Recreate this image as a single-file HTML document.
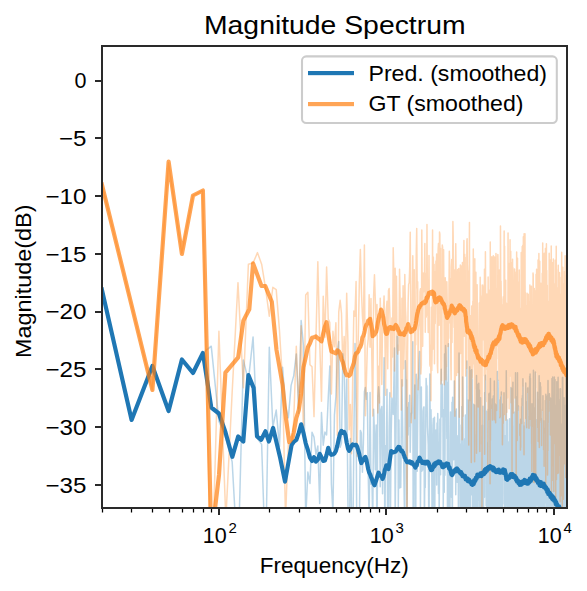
<!DOCTYPE html>
<html><head><meta charset="utf-8"><style>html,body{margin:0;padding:0;background:#fff;width:587px;height:591px;overflow:hidden}svg{display:block}</style></head>
<body><svg width="587" height="591" viewBox="0 0 587 591">
<rect width="587" height="591" fill="#fff"/>
<defs><clipPath id="ax"><rect x="101.917" y="45.883" width="465.0" height="462.0"/></clipPath></defs>
<g clip-path="url(#ax)" fill="none" stroke-linejoin="round" stroke-linecap="square">
<path d="M101.92 289.67 L131.39 419.08 L152.30 366.25 L168.52 410.79 L181.78 359.98 L192.98 372.98 L202.69 353.43 L211.25 346.18 L218.91 421.26 L225.84 438.58 L232.16 461.68 L237.98 565.63 L243.37 360.04 L248.38 380.83 L253.07 336.94 L257.48 438.58 L261.64 444.36 L265.57 565.63 L269.29 347.34 L272.84 427.03 L276.22 410.08 L279.45 446.66 L282.55 367.18 L285.52 406.27 L288.37 417.80 L291.11 385.37 L293.75 375.60 L296.30 353.91 L298.77 413.35 L301.15 320.45 L303.46 345.53 L305.70 518.91 L307.87 472.10 L309.97 483.39 L312.02 432.31 L314.01 437.14 L315.95 454.42 L317.84 446.00 L319.68 503.52 L321.48 412.61 L323.23 445.15 L324.94 432.08 L326.61 435.00 L328.24 398.05 L329.84 365.95 L331.40 484.18 L332.93 513.02 L334.43 415.12 L335.90 396.66 L337.34 352.22 L338.75 341.44 L340.14 447.23 L341.50 443.05 L342.83 353.78 L344.14 363.27 L345.43 443.15 L346.69 378.88 L347.93 501.19 L349.15 579.80 L350.36 438.38 L351.54 512.79 L352.70 561.11 L353.85 439.52 L354.97 343.58 L356.08 412.46 L357.18 597.16 L358.25 535.48 L359.31 534.35 L360.36 430.40 L361.39 432.98 L362.41 472.30 L363.41 442.68 L364.40 391.68 L365.37 387.42 L366.34 399.34 L367.29 392.86 L368.23 472.94 L369.15 525.52 L370.07 392.48 L370.97 484.22 L371.86 473.82 L372.74 524.67 L373.61 409.27 L374.47 433.23 L375.32 469.73 L376.16 425.01 L376.99 549.18 L377.82 396.74 L378.63 386.86 L379.43 397.59 L380.23 486.71 L381.01 410.00 L381.79 406.59 L382.56 493.77 L383.32 419.27 L384.07 357.75 L384.82 540.41 L385.56 445.75 L386.29 461.01 L387.01 389.18 L387.73 544.80 L388.44 561.19 L389.14 429.02 L389.83 392.74 L390.52 509.37 L391.20 433.92 L391.88 398.11 L392.55 404.97 L393.21 414.45 L393.87 382.64 L394.52 348.08 L395.17 521.84 L395.81 455.51 L396.45 377.27 L397.08 336.30 L397.70 336.88 L398.32 509.22 L398.93 419.95 L399.54 487.90 L400.14 454.89 L400.74 487.58 L401.33 427.00 L401.92 379.67 L402.51 417.73 L403.09 458.23 L403.66 458.65 L404.23 500.03 L404.80 518.53 L405.36 360.68 L405.91 381.01 L406.47 379.82 L407.02 549.96 L407.56 407.58 L408.10 434.99 L408.64 402.67 L409.17 426.29 L409.70 395.19 L410.22 452.35 L410.74 423.22 L411.26 413.46 L411.78 412.53 L412.29 396.01 L412.79 341.71 L413.30 592.61 L413.80 407.92 L414.29 417.08 L414.78 385.04 L415.27 529.83 L415.76 529.96 L416.24 374.19 L416.72 424.38 L417.20 471.20 L417.67 418.48 L418.14 380.64 L418.61 375.72 L419.08 360.67 L419.54 351.58 L420.00 395.00 L420.45 509.25 L420.90 448.46 L421.35 387.03 L421.80 471.19 L422.25 433.74 L422.69 470.06 L423.13 411.15 L423.56 407.96 L424.00 406.89 L424.43 528.41 L424.86 463.84 L425.28 487.54 L425.71 421.70 L426.13 378.59 L426.55 386.95 L426.97 386.02 L427.38 426.27 L427.79 435.04 L428.20 445.07 L428.61 496.82 L429.01 546.43 L429.42 417.02 L429.82 374.09 L430.21 416.72 L430.61 469.52 L431.00 409.81 L431.40 434.95 L431.79 472.90 L432.17 530.40 L432.56 482.59 L432.94 425.85 L433.33 418.45 L433.70 440.55 L434.08 550.06 L434.46 417.27 L434.83 507.51 L435.20 433.38 L435.57 436.00 L435.94 430.05 L436.31 431.87 L436.67 484.96 L437.03 423.02 L437.40 436.91 L437.75 413.40 L438.11 435.48 L438.47 493.59 L438.82 441.91 L439.17 512.98 L439.52 474.47 L439.87 419.25 L440.22 458.74 L440.56 474.87 L440.91 405.53 L441.25 369.13 L441.59 405.95 L441.93 416.65 L442.27 384.28 L442.60 416.41 L442.94 412.31 L443.27 509.93 L443.60 409.70 L443.93 424.84 L444.26 492.18 L444.58 354.10 L444.91 475.32 L445.23 403.05 L445.56 345.44 L445.88 352.25 L446.20 366.21 L446.51 388.10 L446.83 438.41 L447.15 395.25 L447.46 511.33 L447.77 382.35 L448.08 513.35 L448.39 343.78 L448.70 503.77 L449.01 503.90 L449.32 509.10 L449.62 537.47 L449.93 517.30 L450.23 438.13 L450.53 411.94 L450.83 481.50 L451.13 436.37 L451.42 497.37 L451.72 442.75 L452.01 402.16 L452.31 620.80 L452.60 397.35 L452.89 432.36 L453.18 446.17 L453.47 452.23 L453.76 459.72 L454.05 414.27 L454.33 380.95 L454.62 439.61 L454.90 420.63 L455.18 472.85 L455.46 411.54 L455.74 494.77 L456.02 448.64 L456.30 408.88 L456.58 472.37 L456.85 469.11 L457.13 482.19 L457.40 460.98 L457.67 457.40 L457.95 435.72 L458.22 460.87 L458.49 530.89 L458.76 426.08 L459.02 353.07 L459.29 414.97 L459.56 453.45 L459.82 425.01 L460.08 470.27 L460.35 512.27 L460.61 500.92 L460.87 561.63 L461.13 444.08 L461.39 475.72 L461.65 448.67 L461.91 406.47 L462.16 454.53 L462.42 510.43 L462.67 377.10 L462.93 405.18 L463.18 452.13 L463.43 445.16 L463.68 548.36 L463.93 467.83 L464.18 512.14 L464.43 505.78 L464.68 438.83 L464.92 478.83 L465.17 503.77 L465.42 414.96 L465.66 495.99 L465.90 507.20 L466.15 486.16 L466.39 466.58 L466.63 469.73 L466.87 361.03 L467.11 509.73 L467.35 494.03 L467.59 590.80 L467.82 523.63 L468.06 399.97 L468.29 423.16 L468.53 566.38 L468.76 497.77 L469.00 434.51 L469.23 462.76 L469.46 509.04 L469.69 366.68 L469.92 506.24 L470.15 449.10 L470.38 545.87 L470.61 530.54 L470.84 370.44 L471.06 434.27 L471.29 445.55 L471.52 494.65 L471.74 369.69 L471.96 426.49 L472.19 379.37 L472.41 482.33 L472.63 467.65 L472.85 541.84 L473.07 544.75 L473.29 404.24 L473.51 433.59 L473.73 415.27 L473.95 423.66 L474.17 507.01 L474.38 406.74 L474.60 405.01 L474.82 451.04 L475.03 462.47 L475.24 454.83 L475.46 527.11 L475.67 549.81 L475.88 435.12 L476.09 456.21 L476.31 444.22 L476.52 375.38 L476.73 511.99 L476.93 498.02 L477.14 581.61 L477.35 456.87 L477.56 423.42 L477.77 700.00 L477.97 384.28 L478.18 500.68 L478.38 482.14 L478.59 388.97 L478.79 383.20 L478.99 426.78 L479.20 446.00 L479.40 390.11 L479.60 589.03 L479.80 478.08 L480.00 473.32 L480.20 414.28 L480.40 499.48 L480.60 397.87 L480.80 524.02 L481.00 518.72 L481.19 544.63 L481.39 504.28 L481.59 574.31 L481.78 547.72 L481.98 512.73 L482.17 481.89 L482.37 425.19 L482.56 457.58 L482.75 540.44 L482.95 406.19 L483.14 542.51 L483.33 426.22 L483.52 535.34 L483.71 473.76 L483.90 425.50 L484.09 456.71 L484.28 464.04 L484.47 497.23 L484.66 392.46 L484.84 474.77 L485.03 425.09 L485.22 427.67 L485.40 375.33 L485.59 450.68 L485.77 419.99 L485.96 427.36 L486.14 505.66 L486.33 411.22 L486.51 411.39 L486.69 483.42 L486.88 508.46 L487.06 501.26 L487.24 488.28 L487.42 502.94 L487.60 464.85 L487.78 442.74 L487.96 521.12 L488.14 506.09 L488.32 409.35 L488.50 624.09 L488.68 536.94 L488.85 394.00 L489.03 406.24 L489.21 393.31 L489.38 427.46 L489.56 528.31 L489.73 473.89 L489.91 471.98 L490.08 466.77 L490.26 456.38 L490.43 378.50 L490.60 442.28 L490.78 404.98 L490.95 512.56 L491.12 425.06 L491.29 425.71 L491.46 472.27 L491.64 535.17 L491.81 420.51 L491.98 486.00 L492.15 399.11 L492.31 503.79 L492.48 423.07 L492.65 455.89 L492.82 482.87 L492.99 513.55 L493.16 404.97 L493.32 396.03 L493.49 513.82 L493.65 502.46 L493.82 496.18 L493.99 421.37 L494.15 511.48 L494.32 381.00 L494.48 418.14 L494.64 449.13 L494.81 419.31 L494.97 436.55 L495.13 403.74 L495.30 537.60 L495.46 487.68 L495.62 587.82 L495.78 420.80 L495.94 586.89 L496.10 416.13 L496.26 404.97 L496.42 521.11 L496.58 541.02 L496.74 582.11 L496.90 415.69 L497.06 518.55 L497.22 440.40 L497.37 371.54 L497.53 443.99 L497.69 588.36 L497.85 510.34 L498.00 380.13 L498.16 382.37 L498.31 395.58 L498.47 480.12 L498.63 477.56 L498.78 466.58 L498.93 399.69 L499.09 445.69 L499.24 421.71 L499.40 516.83 L499.55 563.14 L499.70 476.52 L499.86 429.29 L500.01 610.94 L500.16 489.59 L500.31 489.16 L500.46 416.98 L500.61 494.57 L500.76 397.00 L500.91 485.85 L501.06 464.21 L501.21 452.68 L501.36 391.99 L501.51 438.43 L501.66 542.95 L501.81 487.62 L501.96 462.02 L502.11 585.63 L502.25 403.92 L502.40 543.52 L502.55 429.43 L502.69 440.96 L502.84 415.07 L502.99 474.52 L503.13 432.80 L503.28 463.18 L503.42 455.90 L503.57 441.49 L503.71 466.01 L503.86 428.26 L504.00 392.74 L504.15 504.09 L504.29 445.19 L504.43 476.33 L504.57 523.09 L504.72 435.49 L504.86 475.87 L505.00 626.93 L505.14 488.96 L505.29 531.71 L505.43 508.95 L505.57 498.46 L505.71 473.16 L505.85 514.78 L505.99 523.23 L506.13 408.00 L506.27 370.76 L506.41 428.18 L506.55 442.70 L506.69 498.99 L506.82 422.35 L506.96 464.22 L507.10 461.07 L507.24 504.78 L507.38 462.89 L507.51 420.04 L507.65 607.86 L507.79 571.80 L507.92 451.76 L508.06 454.44 L508.20 480.04 L508.33 571.29 L508.47 484.32 L508.60 451.12 L508.74 484.74 L508.87 452.85 L509.01 441.83 L509.14 526.41 L509.28 442.54 L509.41 513.86 L509.54 418.82 L509.68 429.12 L509.81 450.86 L509.94 463.02 L510.07 513.36 L510.21 475.18 L510.34 434.68 L510.47 534.33 L510.60 451.02 L510.73 593.34 L510.86 451.27 L511.00 387.55 L511.13 414.67 L511.26 466.34 L511.39 569.57 L511.52 499.72 L511.65 425.31 L511.78 444.98 L511.90 457.64 L512.03 426.91 L512.16 404.18 L512.29 388.45 L512.42 449.87 L512.55 528.22 L512.68 428.97 L512.80 424.94 L512.93 382.31 L513.06 533.95 L513.18 452.42 L513.31 445.07 L513.44 469.72 L513.56 508.97 L513.69 478.41 L513.82 529.28 L513.94 509.50 L514.07 453.75 L514.19 530.98 L514.32 426.09 L514.44 478.40 L514.57 412.13 L514.69 442.96 L514.82 438.37 L514.94 426.05 L515.06 500.45 L515.19 439.50 L515.31 434.13 L515.43 398.29 L515.56 372.76 L515.68 564.35 L515.80 402.61 L515.92 555.45 L516.05 470.37 L516.17 475.62 L516.29 517.10 L516.41 480.78 L516.53 397.08 L516.65 458.04 L516.77 566.94 L516.89 518.45 L517.01 480.27 L517.13 417.97 L517.25 412.07 L517.37 450.81 L517.49 372.85 L517.61 408.10 L517.73 423.09 L517.85 439.32 L517.97 515.47 L518.09 446.65 L518.21 425.66 L518.33 420.52 L518.44 406.12 L518.56 436.58 L518.68 436.19 L518.80 492.91 L518.91 444.51 L519.03 564.77 L519.15 461.55 L519.27 424.14 L519.38 430.07 L519.50 435.03 L519.61 450.25 L519.73 564.92 L519.85 534.31 L519.96 487.16 L520.08 429.55 L520.19 527.64 L520.31 584.07 L520.42 512.51 L520.54 536.07 L520.65 419.28 L520.77 622.21 L520.88 488.11 L521.00 429.01 L521.11 469.15 L521.22 505.08 L521.34 447.25 L521.45 470.14 L521.56 406.82 L521.68 460.15 L521.79 550.69 L521.90 476.62 L522.01 398.16 L522.13 401.25 L522.24 427.34 L522.35 626.18 L522.46 395.39 L522.57 463.03 L522.68 465.88 L522.80 481.14 L522.91 378.83 L523.02 387.26 L523.13 515.53 L523.24 479.12 L523.35 460.58 L523.46 519.08 L523.57 467.06 L523.68 426.77 L523.79 435.86 L523.90 440.23 L524.01 426.32 L524.12 548.17 L524.23 492.55 L524.34 567.20 L524.44 461.72 L524.55 535.34 L524.66 528.38 L524.77 530.31 L524.88 492.36 L524.99 544.47 L525.09 422.16 L525.20 450.72 L525.31 495.84 L525.42 557.82 L525.52 491.78 L525.63 443.17 L525.74 383.03 L525.84 426.14 L525.95 445.91 L526.06 412.23 L526.16 444.65 L526.27 490.19 L526.37 434.87 L526.48 508.73 L526.59 549.81 L526.69 402.09 L526.80 458.96 L526.90 472.52 L527.01 551.56 L527.11 501.57 L527.22 486.09 L527.32 483.86 L527.42 469.48 L527.53 516.21 L527.63 388.03 L527.74 503.33 L527.84 541.67 L527.94 416.67 L528.05 535.61 L528.15 490.93 L528.25 473.81 L528.36 448.35 L528.46 420.40 L528.56 613.90 L528.67 424.20 L528.77 425.00 L528.87 420.46 L528.97 449.95 L529.07 486.93 L529.18 507.44 L529.28 387.10 L529.38 415.41 L529.48 627.24 L529.58 398.21 L529.68 376.37 L529.78 438.17 L529.89 454.83 L529.99 428.98 L530.09 374.10 L530.19 416.60 L530.29 431.86 L530.39 378.34 L530.49 450.89 L530.59 489.88 L530.69 420.69 L530.79 489.74 L530.89 509.21 L530.99 639.45 L531.09 416.31 L531.18 462.01 L531.28 415.64 L531.38 533.21 L531.48 462.21 L531.58 413.67 L531.68 471.78 L531.78 428.52 L531.87 499.11 L531.97 403.84 L532.07 475.09 L532.17 448.69 L532.27 513.08 L532.36 478.18 L532.46 554.88 L532.56 475.41 L532.65 451.20 L532.75 484.46 L532.85 414.17 L532.95 449.94 L533.04 605.06 L533.14 523.78 L533.23 461.29 L533.33 453.38 L533.43 370.30 L533.52 429.84 L533.62 486.26 L533.71 521.65 L533.81 439.19 L533.91 546.20 L534.00 519.01 L534.10 493.63 L534.19 433.37 L534.29 604.93 L534.38 475.74 L534.48 462.78 L534.57 407.70 L534.66 476.12 L534.76 440.81 L534.85 485.63 L534.95 552.56 L535.04 510.84 L535.14 474.20 L535.23 418.31 L535.32 371.91 L535.42 423.26 L535.51 431.21 L535.60 420.27 L535.70 556.72 L535.79 482.65 L535.88 432.83 L535.97 420.04 L536.07 532.48 L536.16 469.01 L536.25 458.60 L536.34 426.06 L536.44 460.13 L536.53 422.01 L536.62 474.75 L536.71 484.92 L536.80 505.03 L536.90 426.82 L536.99 419.57 L537.08 457.50 L537.17 465.36 L537.26 472.09 L537.35 445.85 L537.44 405.23 L537.53 392.28 L537.62 451.09 L537.72 468.85 L537.81 463.93 L537.90 400.25 L537.99 542.79 L538.08 399.60 L538.17 406.90 L538.26 481.20 L538.35 454.49 L538.44 496.83 L538.53 438.00 L538.62 515.47 L538.70 473.64 L538.79 466.27 L538.88 627.41 L538.97 485.53 L539.06 463.01 L539.15 375.82 L539.24 510.83 L539.33 408.41 L539.42 500.16 L539.50 528.17 L539.59 489.27 L539.68 507.96 L539.77 468.27 L539.86 536.16 L539.94 545.02 L540.03 469.60 L540.12 384.96 L540.21 397.90 L540.29 382.69 L540.38 470.12 L540.47 474.06 L540.56 475.27 L540.64 472.60 L540.73 386.69 L540.82 420.29 L540.90 439.22 L540.99 409.25 L541.08 474.17 L541.16 556.84 L541.25 447.43 L541.34 418.51 L541.42 513.78 L541.51 565.51 L541.59 553.36 L541.68 458.38 L541.76 465.89 L541.85 463.99 L541.94 429.32 L542.02 500.62 L542.11 421.28 L542.19 455.00 L542.28 572.85 L542.36 477.96 L542.45 435.83 L542.53 468.06 L542.62 498.83 L542.70 492.46 L542.78 423.96 L542.87 449.35 L542.95 395.71 L543.04 489.05 L543.12 486.94 L543.21 483.95 L543.29 455.60 L543.37 568.99 L543.46 467.14 L543.54 518.52 L543.62 515.07 L543.71 420.68 L543.79 515.09 L543.87 535.64 L543.96 526.44 L544.04 502.35 L544.12 524.61 L544.21 517.13 L544.29 470.52 L544.37 455.54 L544.45 447.49 L544.54 428.80 L544.62 443.87 L544.70 438.68 L544.78 451.44 L544.87 510.84 L544.95 445.54 L545.03 482.56 L545.11 447.60 L545.19 462.30 L545.27 466.30 L545.36 400.47 L545.44 440.93 L545.52 502.78 L545.60 423.17 L545.68 411.58 L545.76 486.71 L545.84 394.15 L545.92 398.10 L546.01 466.50 L546.09 481.30 L546.17 396.19 L546.25 495.60 L546.33 487.97 L546.41 439.34 L546.49 466.83 L546.57 567.81 L546.65 444.12 L546.73 566.49 L546.81 528.78 L546.89 521.00 L546.97 472.64 L547.05 514.50 L547.13 461.45 L547.21 445.67 L547.29 422.57 L547.37 445.77 L547.44 466.52 L547.52 432.09 L547.60 395.39 L547.68 441.40 L547.76 547.93 L547.84 487.96 L547.92 396.08 L548.00 380.60 L548.08 455.66 L548.15 546.15 L548.23 501.66 L548.31 498.59 L548.39 491.80 L548.47 448.68 L548.54 504.44 L548.62 503.40 L548.70 631.59 L548.78 525.65 L548.86 450.60 L548.93 409.79 L549.01 612.19 L549.09 608.16 L549.17 447.78 L549.24 467.18 L549.32 431.37 L549.40 393.70 L549.47 485.09 L549.55 472.20 L549.63 442.62 L549.71 497.38 L549.78 510.81 L549.86 636.51 L549.94 497.05 L550.01 406.91 L550.09 431.38 L550.16 465.96 L550.24 455.74 L550.32 469.52 L550.39 500.88 L550.47 397.89 L550.54 439.78 L550.62 529.59 L550.70 547.80 L550.77 480.32 L550.85 571.82 L550.92 576.83 L551.00 450.80 L551.07 549.92 L551.15 468.33 L551.22 436.24 L551.30 423.85 L551.37 416.19 L551.45 512.24 L551.52 508.36 L551.60 474.49 L551.67 609.38 L551.75 508.98 L551.82 423.68 L551.90 513.75 L551.97 378.62 L552.05 499.79 L552.12 494.67 L552.20 415.39 L552.27 403.69 L552.34 400.03 L552.42 427.90 L552.49 488.27 L552.57 439.04 L552.64 385.21 L552.71 376.89 L552.79 468.65 L552.86 540.36 L552.93 518.49 L553.01 524.33 L553.08 510.65 L553.15 456.60 L553.23 440.93 L553.30 528.15 L553.37 413.76 L553.45 515.97 L553.52 409.73 L553.59 566.41 L553.66 538.04 L553.74 477.58 L553.81 559.49 L553.88 519.16 L553.95 476.83 L554.03 540.66 L554.10 573.25 L554.17 465.09 L554.24 397.46 L554.32 376.98 L554.39 425.86 L554.46 446.83 L554.53 511.31 L554.60 420.19 L554.67 429.81 L554.75 491.45 L554.82 388.72 L554.89 517.82 L554.96 429.81 L555.03 379.43 L555.10 412.54 L555.17 544.61 L555.25 404.99 L555.32 472.23 L555.39 446.19 L555.46 487.72 L555.53 440.52 L555.60 464.83 L555.67 492.67 L555.74 492.50 L555.81 487.19 L555.88 449.37 L555.95 412.99 L556.02 417.93 L556.09 478.38 L556.16 444.76 L556.23 450.51 L556.30 552.03 L556.37 508.46 L556.44 525.73 L556.51 458.20 L556.58 447.02 L556.65 544.58 L556.72 505.16 L556.79 381.72 L556.86 502.73 L556.93 517.07 L557.00 480.95 L557.07 502.44 L557.14 499.78 L557.21 441.82 L557.28 401.23 L557.35 398.68 L557.42 576.76 L557.49 637.64 L557.56 456.62 L557.62 538.37 L557.69 561.72 L557.76 546.19 L557.83 608.93 L557.90 501.31 L557.97 445.56 L558.04 411.03 L558.10 377.19 L558.17 431.61 L558.24 451.24 L558.31 519.74 L558.38 508.01 L558.45 402.82 L558.51 449.83 L558.58 472.23 L558.65 388.83 L558.72 518.84 L558.79 603.18 L558.85 540.08 L558.92 467.84 L558.99 557.67 L559.06 429.88 L559.12 488.43 L559.19 499.92 L559.26 446.65 L559.33 453.35 L559.39 402.91 L559.46 401.63 L559.53 533.56 L559.59 450.27 L559.66 448.65 L559.73 538.15 L559.79 435.06 L559.86 452.30 L559.93 450.40 L559.99 504.15 L560.06 556.90 L560.13 423.98 L560.19 399.18 L560.26 456.23 L560.33 523.82 L560.39 471.00 L560.46 388.87 L560.53 392.33 L560.59 582.64 L560.66 543.44 L560.72 448.89 L560.79 484.38 L560.86 477.03 L560.92 458.30 L560.99 504.70 L561.05 507.73 L561.12 424.02 L561.18 499.20 L561.25 512.70 L561.32 497.59 L561.38 427.35 L561.45 496.56 L561.51 435.74 L561.58 508.76 L561.64 487.20 L561.71 594.87 L561.77 472.57 L561.84 469.10 L561.90 429.71 L561.97 547.09 L562.03 619.96 L562.10 473.14 L562.16 482.28 L562.23 509.49 L562.29 466.84 L562.35 444.64 L562.42 377.43 L562.48 512.09 L562.55 534.27 L562.61 448.64 L562.68 423.07 L562.74 377.45 L562.80 392.94 L562.87 424.86 L562.93 418.98 L563.00 410.52 L563.06 514.64 L563.12 483.61 L563.19 566.22 L563.25 542.01 L563.32 439.55 L563.38 442.55 L563.44 446.01 L563.51 472.15 L563.57 599.53 L563.63 493.82 L563.70 464.25 L563.76 419.20 L563.82 479.89 L563.89 400.66 L563.95 452.96 L564.01 565.56 L564.08 397.80 L564.14 451.98 L564.20 571.78 L564.26 458.37 L564.33 421.13 L564.39 528.68 L564.45 454.27 L564.52 451.86 L564.58 455.14 L564.64 465.30 L564.70 508.97 L564.77 535.95 L564.83 477.59 L564.89 530.30 L564.95 479.58 L565.01 405.53 L565.08 518.32 L565.14 507.38 L565.20 427.33 L565.26 589.61 L565.32 454.89 L565.39 522.11 L565.45 422.80 L565.51 481.95 L565.57 492.01 L565.63 469.59 L565.70 460.46 L565.76 423.23 L565.82 415.46 L565.88 531.05 L565.94 428.08 L566.00 377.63 L566.06 424.64 L566.13 510.79 L566.19 537.39 L566.25 399.76 L566.31 461.95 L566.37 491.13 L566.43 556.51 L566.49 644.71 L566.55 433.02 L566.61 534.02 L566.67 454.96 L566.74 464.95 L566.80 507.47 L566.86 489.73 L566.92 445.96" stroke="#1f77b4" stroke-opacity="0.3" stroke-width="1.5"/>
<path d="M101.92 184.57 L131.39 304.51 L152.30 389.60 L168.52 162.68 L181.78 253.14 L192.98 195.60 L202.69 190.61 L211.25 600.28 L218.91 331.17 L225.84 519.43 L232.16 392.38 L237.98 282.66 L243.37 387.76 L248.38 264.18 L253.07 263.02 L257.48 252.63 L261.64 264.18 L265.57 288.43 L269.29 316.15 L272.84 287.28 L276.22 289.59 L279.45 330.01 L282.55 381.11 L285.52 517.94 L288.37 443.46 L291.11 450.89 L293.75 419.95 L296.30 346.27 L298.77 408.32 L301.15 325.77 L303.46 435.75 L305.70 294.95 L307.87 292.33 L309.97 364.74 L312.02 366.77 L314.01 416.62 L315.95 338.07 L317.84 261.68 L319.68 340.58 L321.48 401.33 L323.23 296.37 L324.94 337.23 L326.61 267.08 L328.24 319.15 L329.84 322.64 L331.40 394.03 L332.93 331.27 L334.43 346.81 L335.90 322.83 L337.34 435.17 L338.75 311.86 L340.14 300.33 L341.50 313.51 L342.83 369.24 L344.14 336.58 L345.43 369.50 L346.69 293.16 L347.93 342.28 L349.15 429.83 L350.36 404.46 L351.54 453.71 L352.70 378.20 L353.85 311.03 L354.97 316.35 L356.08 281.47 L357.18 456.16 L358.25 339.84 L359.31 283.77 L360.36 249.61 L361.39 289.42 L362.41 315.96 L363.41 329.57 L364.40 245.11 L365.37 415.84 L366.34 383.45 L367.29 348.03 L368.23 338.90 L369.15 294.66 L370.07 347.14 L370.97 298.42 L371.86 360.41 L372.74 416.11 L373.61 296.10 L374.47 274.75 L375.32 300.28 L376.16 327.14 L376.99 304.54 L377.82 412.97 L378.63 366.26 L379.43 402.91 L380.23 298.37 L381.01 330.15 L381.79 384.53 L382.56 320.51 L383.32 310.94 L384.07 295.88 L384.82 328.61 L385.56 395.21 L386.29 311.21 L387.01 301.30 L387.73 368.64 L388.44 290.70 L389.14 288.52 L389.83 312.99 L390.52 339.79 L391.20 396.97 L391.88 318.08 L392.55 357.11 L393.21 247.74 L393.87 276.73 L394.52 370.91 L395.17 268.28 L395.81 323.04 L396.45 276.30 L397.08 347.65 L397.70 354.09 L398.32 344.89 L398.93 350.30 L399.54 269.32 L400.14 300.15 L400.74 365.00 L401.33 409.96 L401.92 298.24 L402.51 385.92 L403.09 285.73 L403.66 368.66 L404.23 345.89 L404.80 274.46 L405.36 306.11 L405.91 317.26 L406.47 421.75 L407.02 568.51 L407.56 356.92 L408.10 303.17 L408.64 284.26 L409.17 282.96 L409.70 268.13 L410.22 232.13 L410.74 297.48 L411.26 422.64 L411.78 311.27 L412.29 315.92 L412.79 255.78 L413.30 325.53 L413.80 332.30 L414.29 269.63 L414.78 418.65 L415.27 335.75 L415.76 344.69 L416.24 252.84 L416.72 228.47 L417.20 287.71 L417.67 281.65 L418.14 389.70 L418.61 331.46 L419.08 325.57 L419.54 324.27 L420.00 292.22 L420.45 288.77 L420.90 373.95 L421.35 365.22 L421.80 230.12 L422.25 294.49 L422.69 346.18 L423.13 273.01 L423.56 291.91 L424.00 278.79 L424.43 283.03 L424.86 243.42 L425.28 332.31 L425.71 273.22 L426.13 317.17 L426.55 314.92 L426.97 224.47 L427.38 294.42 L427.79 301.08 L428.20 332.40 L428.61 303.04 L429.01 255.59 L429.42 322.60 L429.82 364.93 L430.21 366.18 L430.61 345.02 L431.00 400.68 L431.40 307.14 L431.79 370.50 L432.17 348.13 L432.56 229.94 L432.94 349.32 L433.33 256.92 L433.70 281.80 L434.08 264.30 L434.46 363.80 L434.83 271.46 L435.20 323.52 L435.57 305.90 L435.94 261.00 L436.31 267.99 L436.67 254.00 L437.03 280.03 L437.40 365.18 L437.75 372.80 L438.11 250.09 L438.47 243.53 L438.82 265.12 L439.17 325.26 L439.52 232.11 L439.87 234.07 L440.22 312.72 L440.56 248.30 L440.91 383.98 L441.25 314.77 L441.59 380.46 L441.93 343.42 L442.27 245.00 L442.60 247.44 L442.94 308.13 L443.27 259.64 L443.60 249.74 L443.93 299.07 L444.26 384.78 L444.58 283.89 L444.91 315.84 L445.23 277.63 L445.56 286.52 L445.88 379.70 L446.20 332.05 L446.51 366.58 L446.83 281.77 L447.15 298.80 L447.46 312.98 L447.77 305.97 L448.08 346.52 L448.39 331.89 L448.70 338.34 L449.01 286.40 L449.32 251.37 L449.62 264.75 L449.93 322.70 L450.23 313.82 L450.53 278.67 L450.83 364.93 L451.13 379.73 L451.42 267.45 L451.72 259.50 L452.01 342.44 L452.31 310.57 L452.60 290.86 L452.89 221.53 L453.18 235.08 L453.47 289.95 L453.76 312.95 L454.05 327.44 L454.33 269.97 L454.62 392.05 L454.90 416.16 L455.18 390.06 L455.46 271.01 L455.74 243.63 L456.02 269.49 L456.30 291.16 L456.58 375.45 L456.85 335.72 L457.13 345.83 L457.40 274.29 L457.67 269.41 L457.95 372.44 L458.22 314.36 L458.49 325.42 L458.76 268.46 L459.02 311.34 L459.29 417.32 L459.56 337.38 L459.82 310.10 L460.08 303.49 L460.35 264.94 L460.61 353.49 L460.87 313.94 L461.13 265.90 L461.39 347.03 L461.65 269.64 L461.91 299.21 L462.16 439.83 L462.42 262.43 L462.67 335.36 L462.93 416.35 L463.18 276.98 L463.43 334.39 L463.68 264.41 L463.93 240.47 L464.18 336.29 L464.43 307.51 L464.68 254.21 L464.92 278.05 L465.17 257.42 L465.42 318.48 L465.66 375.88 L465.90 294.20 L466.15 349.28 L466.39 322.91 L466.63 368.35 L466.87 241.93 L467.11 238.84 L467.35 265.08 L467.59 271.21 L467.82 309.23 L468.06 270.91 L468.29 293.82 L468.53 330.83 L468.76 445.10 L469.00 362.42 L469.23 269.66 L469.46 222.42 L469.69 356.41 L469.92 326.03 L470.15 400.57 L470.38 366.31 L470.61 322.22 L470.84 315.80 L471.06 413.83 L471.29 462.51 L471.52 334.27 L471.74 305.90 L471.96 378.03 L472.19 377.32 L472.41 369.06 L472.63 366.45 L472.85 301.19 L473.07 352.55 L473.29 249.02 L473.51 296.90 L473.73 363.84 L473.95 300.87 L474.17 346.16 L474.38 308.78 L474.60 461.80 L474.82 258.76 L475.03 388.65 L475.24 297.24 L475.46 285.08 L475.67 381.80 L475.88 272.13 L476.09 338.94 L476.31 354.39 L476.52 453.19 L476.73 367.92 L476.93 344.78 L477.14 284.64 L477.35 318.07 L477.56 351.41 L477.77 406.85 L477.97 354.86 L478.18 381.87 L478.38 365.22 L478.59 372.10 L478.79 407.02 L478.99 335.16 L479.20 302.95 L479.40 332.53 L479.60 306.24 L479.80 451.45 L480.00 310.46 L480.20 277.17 L480.40 365.05 L480.60 393.61 L480.80 285.06 L481.00 344.05 L481.19 310.43 L481.39 301.36 L481.59 444.15 L481.78 345.66 L481.98 526.51 L482.17 305.91 L482.37 295.68 L482.56 298.75 L482.75 284.94 L482.95 339.85 L483.14 322.19 L483.33 306.63 L483.52 287.48 L483.71 331.28 L483.90 292.16 L484.09 329.56 L484.28 376.04 L484.47 269.32 L484.66 454.23 L484.84 346.38 L485.03 269.17 L485.22 380.10 L485.40 251.80 L485.59 285.00 L485.77 369.01 L485.96 349.20 L486.14 316.23 L486.33 330.49 L486.51 348.46 L486.69 323.28 L486.88 294.07 L487.06 401.48 L487.24 298.78 L487.42 398.21 L487.60 367.27 L487.78 466.24 L487.96 399.04 L488.14 277.12 L488.32 364.25 L488.50 419.87 L488.68 295.64 L488.85 345.03 L489.03 321.32 L489.21 290.21 L489.38 388.28 L489.56 306.81 L489.73 419.09 L489.91 364.34 L490.08 483.85 L490.26 242.11 L490.43 440.23 L490.60 330.25 L490.78 327.41 L490.95 408.60 L491.12 298.11 L491.29 347.48 L491.46 331.76 L491.64 264.58 L491.81 256.87 L491.98 323.02 L492.15 304.36 L492.31 276.03 L492.48 420.07 L492.65 302.00 L492.82 347.85 L492.99 390.30 L493.16 332.39 L493.32 255.84 L493.49 287.92 L493.65 298.88 L493.82 323.46 L493.99 287.76 L494.15 385.65 L494.32 419.66 L494.48 256.99 L494.64 300.50 L494.81 277.88 L494.97 364.70 L495.13 338.49 L495.30 400.07 L495.46 358.70 L495.62 422.75 L495.78 351.02 L495.94 253.50 L496.10 256.65 L496.26 357.68 L496.42 372.42 L496.58 410.62 L496.74 309.17 L496.90 358.93 L497.06 324.33 L497.22 346.57 L497.37 288.15 L497.53 288.15 L497.69 308.37 L497.85 254.56 L498.00 261.15 L498.16 326.71 L498.31 344.68 L498.47 344.27 L498.63 291.12 L498.78 353.11 L498.93 380.00 L499.09 274.18 L499.24 269.88 L499.40 315.95 L499.55 286.95 L499.70 340.19 L499.86 417.73 L500.01 385.49 L500.16 315.83 L500.31 416.79 L500.46 226.06 L500.61 252.94 L500.76 317.80 L500.91 347.05 L501.06 281.28 L501.21 293.61 L501.36 327.38 L501.51 298.65 L501.66 353.71 L501.81 394.70 L501.96 336.65 L502.11 320.07 L502.25 310.22 L502.40 444.72 L502.55 429.81 L502.69 322.98 L502.84 304.84 L502.99 368.68 L503.13 423.18 L503.28 296.68 L503.42 302.56 L503.57 310.07 L503.71 354.22 L503.86 328.75 L504.00 294.90 L504.15 230.90 L504.29 355.94 L504.43 414.50 L504.57 246.13 L504.72 299.14 L504.86 306.11 L505.00 401.84 L505.14 366.97 L505.29 336.36 L505.43 409.29 L505.57 289.83 L505.71 280.19 L505.85 420.15 L505.99 302.31 L506.13 329.25 L506.27 365.84 L506.41 311.21 L506.55 303.46 L506.69 338.99 L506.82 412.31 L506.96 354.87 L507.10 348.99 L507.24 342.42 L507.38 394.46 L507.51 397.99 L507.65 304.02 L507.79 307.95 L507.92 324.00 L508.06 232.97 L508.20 332.17 L508.33 280.74 L508.47 309.56 L508.60 314.99 L508.74 341.42 L508.87 294.05 L509.01 341.50 L509.14 408.73 L509.28 303.56 L509.41 263.36 L509.54 344.28 L509.68 363.52 L509.81 356.70 L509.94 278.30 L510.07 239.87 L510.21 323.94 L510.34 375.91 L510.47 373.84 L510.60 291.07 L510.73 251.35 L510.86 276.87 L511.00 271.26 L511.13 402.78 L511.26 381.67 L511.39 290.04 L511.52 296.40 L511.65 288.05 L511.78 262.85 L511.90 311.43 L512.03 478.21 L512.16 367.39 L512.29 339.72 L512.42 412.66 L512.55 259.22 L512.68 361.61 L512.80 309.31 L512.93 267.64 L513.06 405.50 L513.18 400.38 L513.31 363.06 L513.44 412.89 L513.56 314.44 L513.69 304.21 L513.82 304.24 L513.94 312.86 L514.07 351.87 L514.19 282.27 L514.32 317.52 L514.44 284.19 L514.57 268.92 L514.69 322.09 L514.82 303.91 L514.94 398.01 L515.06 271.94 L515.19 327.72 L515.31 341.88 L515.43 312.24 L515.56 278.70 L515.68 354.58 L515.80 369.11 L515.92 378.90 L516.05 367.43 L516.17 482.57 L516.29 317.15 L516.41 329.59 L516.53 294.26 L516.65 252.09 L516.77 289.27 L516.89 372.68 L517.01 282.18 L517.13 440.57 L517.25 328.83 L517.37 276.70 L517.49 258.16 L517.61 318.98 L517.73 388.94 L517.85 410.16 L517.97 315.64 L518.09 339.92 L518.21 406.22 L518.33 345.87 L518.44 366.14 L518.56 281.99 L518.68 397.08 L518.80 348.56 L518.91 301.22 L519.03 291.17 L519.15 335.12 L519.27 270.06 L519.38 309.41 L519.50 364.12 L519.61 309.85 L519.73 323.71 L519.85 435.44 L519.96 308.15 L520.08 344.97 L520.19 334.77 L520.31 319.96 L520.42 450.07 L520.54 324.77 L520.65 447.45 L520.77 377.98 L520.88 315.33 L521.00 359.75 L521.11 304.94 L521.22 252.44 L521.34 369.80 L521.45 258.89 L521.56 285.20 L521.68 423.56 L521.79 285.04 L521.90 339.08 L522.01 405.67 L522.13 267.76 L522.24 246.58 L522.35 353.81 L522.46 282.26 L522.57 335.78 L522.68 297.44 L522.80 245.34 L522.91 385.65 L523.02 333.12 L523.13 350.34 L523.24 335.58 L523.35 236.80 L523.46 261.00 L523.57 314.62 L523.68 376.92 L523.79 308.63 L523.90 350.92 L524.01 454.81 L524.12 233.65 L524.23 355.14 L524.34 260.57 L524.44 297.57 L524.55 377.82 L524.66 295.30 L524.77 362.22 L524.88 303.26 L524.99 233.71 L525.09 289.48 L525.20 322.06 L525.31 291.93 L525.42 294.05 L525.52 358.64 L525.63 312.01 L525.74 343.65 L525.84 418.62 L525.95 321.64 L526.06 372.62 L526.16 330.17 L526.27 306.37 L526.37 399.73 L526.48 310.24 L526.59 317.38 L526.69 427.65 L526.80 388.53 L526.90 338.74 L527.01 346.08 L527.11 293.33 L527.22 379.15 L527.32 302.49 L527.42 310.44 L527.53 317.12 L527.63 317.56 L527.74 337.80 L527.84 342.78 L527.94 392.35 L528.05 372.11 L528.15 346.84 L528.25 294.31 L528.36 307.59 L528.46 340.78 L528.56 301.18 L528.67 301.56 L528.77 409.52 L528.87 356.76 L528.97 428.33 L529.07 365.75 L529.18 337.29 L529.28 397.64 L529.38 334.90 L529.48 327.37 L529.58 308.27 L529.68 305.77 L529.78 358.84 L529.89 285.11 L529.99 372.87 L530.09 360.38 L530.19 419.22 L530.29 351.14 L530.39 372.41 L530.49 341.62 L530.59 308.63 L530.69 323.26 L530.79 309.79 L530.89 302.59 L530.99 354.14 L531.09 290.24 L531.18 425.89 L531.28 286.45 L531.38 286.15 L531.48 298.44 L531.58 321.44 L531.68 443.53 L531.78 332.31 L531.87 471.60 L531.97 442.51 L532.07 370.63 L532.17 328.92 L532.27 337.56 L532.36 388.48 L532.46 368.60 L532.56 380.11 L532.65 395.91 L532.75 324.49 L532.85 333.07 L532.95 426.13 L533.04 273.10 L533.14 326.92 L533.23 274.33 L533.33 333.35 L533.43 296.86 L533.52 383.33 L533.62 379.57 L533.71 446.84 L533.81 482.60 L533.91 413.91 L534.00 291.57 L534.10 320.70 L534.19 403.82 L534.29 288.38 L534.38 373.97 L534.48 482.61 L534.57 325.81 L534.66 331.81 L534.76 394.99 L534.85 290.71 L534.95 398.71 L535.04 404.90 L535.14 384.57 L535.23 306.04 L535.32 380.99 L535.42 339.59 L535.51 297.14 L535.60 329.25 L535.70 476.84 L535.79 336.01 L535.88 347.51 L535.97 336.89 L536.07 274.13 L536.16 301.05 L536.25 294.95 L536.34 304.58 L536.44 327.07 L536.53 291.29 L536.62 269.16 L536.71 359.40 L536.80 355.11 L536.90 278.84 L536.99 334.48 L537.08 372.53 L537.17 332.26 L537.26 327.64 L537.35 331.87 L537.44 290.93 L537.53 387.67 L537.62 320.28 L537.72 427.56 L537.81 347.03 L537.90 289.46 L537.99 332.10 L538.08 259.91 L538.17 441.61 L538.26 287.06 L538.35 346.14 L538.44 287.38 L538.53 436.21 L538.62 302.94 L538.70 354.50 L538.79 309.74 L538.88 253.47 L538.97 275.94 L539.06 303.44 L539.15 305.75 L539.24 429.84 L539.33 447.49 L539.42 394.19 L539.50 294.59 L539.59 318.27 L539.68 289.90 L539.77 261.14 L539.86 336.71 L539.94 296.58 L540.03 301.80 L540.12 368.01 L540.21 317.38 L540.29 362.54 L540.38 372.74 L540.47 419.90 L540.56 379.84 L540.64 359.49 L540.73 419.38 L540.82 283.29 L540.90 368.47 L540.99 310.79 L541.08 298.14 L541.16 403.14 L541.25 422.86 L541.34 339.48 L541.42 334.27 L541.51 364.10 L541.59 445.50 L541.68 296.09 L541.76 373.80 L541.85 317.39 L541.94 335.58 L542.02 346.32 L542.11 318.08 L542.19 273.24 L542.28 338.98 L542.36 408.75 L542.45 379.78 L542.53 373.52 L542.62 337.99 L542.70 243.08 L542.78 335.96 L542.87 410.35 L542.95 268.69 L543.04 259.11 L543.12 286.81 L543.21 377.05 L543.29 288.79 L543.37 279.41 L543.46 347.86 L543.54 352.55 L543.62 449.79 L543.71 354.01 L543.79 318.30 L543.87 425.37 L543.96 403.34 L544.04 347.60 L544.12 466.17 L544.21 253.24 L544.29 263.13 L544.37 321.06 L544.45 399.03 L544.54 432.71 L544.62 353.23 L544.70 333.34 L544.78 384.74 L544.87 360.53 L544.95 296.93 L545.03 282.45 L545.11 306.77 L545.19 286.30 L545.27 284.11 L545.36 264.41 L545.44 248.60 L545.52 426.63 L545.60 349.87 L545.68 277.88 L545.76 486.81 L545.84 300.77 L545.92 293.97 L546.01 300.83 L546.09 384.33 L546.17 388.87 L546.25 358.20 L546.33 296.91 L546.41 243.68 L546.49 314.85 L546.57 350.30 L546.65 329.85 L546.73 270.41 L546.81 291.06 L546.89 326.19 L546.97 393.86 L547.05 298.96 L547.13 325.16 L547.21 399.99 L547.29 285.14 L547.37 345.02 L547.44 384.91 L547.52 474.96 L547.60 448.09 L547.68 374.20 L547.76 301.23 L547.84 302.97 L547.92 450.50 L548.00 327.74 L548.08 338.68 L548.15 422.61 L548.23 328.30 L548.31 317.84 L548.39 304.19 L548.47 402.79 L548.54 396.80 L548.62 332.10 L548.70 411.14 L548.78 329.16 L548.86 351.29 L548.93 322.65 L549.01 369.18 L549.09 289.93 L549.17 253.17 L549.24 293.75 L549.32 368.50 L549.40 385.47 L549.47 318.80 L549.55 284.37 L549.63 343.78 L549.71 265.64 L549.78 299.98 L549.86 259.78 L549.94 294.78 L550.01 376.79 L550.09 310.55 L550.16 400.79 L550.24 367.71 L550.32 309.55 L550.39 435.11 L550.47 279.77 L550.54 377.60 L550.62 407.31 L550.70 352.61 L550.77 433.29 L550.85 341.77 L550.92 299.18 L551.00 365.56 L551.07 346.41 L551.15 318.73 L551.22 246.04 L551.30 261.15 L551.37 416.38 L551.45 493.86 L551.52 421.04 L551.60 330.21 L551.67 461.25 L551.75 324.78 L551.82 332.53 L551.90 347.67 L551.97 351.47 L552.05 345.32 L552.12 480.47 L552.20 406.69 L552.27 377.28 L552.34 348.23 L552.42 351.28 L552.49 262.84 L552.57 344.12 L552.64 283.20 L552.71 355.31 L552.79 305.81 L552.86 379.40 L552.93 324.00 L553.01 452.98 L553.08 342.02 L553.15 298.96 L553.23 387.85 L553.30 465.67 L553.37 258.98 L553.45 294.11 L553.52 324.71 L553.59 349.04 L553.66 424.82 L553.74 406.73 L553.81 491.55 L553.88 405.60 L553.95 318.34 L554.03 416.46 L554.10 349.86 L554.17 397.83 L554.24 349.91 L554.32 365.31 L554.39 342.23 L554.46 443.58 L554.53 352.48 L554.60 294.90 L554.67 414.26 L554.75 302.40 L554.82 283.80 L554.89 306.49 L554.96 292.55 L555.03 290.56 L555.10 358.13 L555.17 303.94 L555.25 260.35 L555.32 403.92 L555.39 377.01 L555.46 435.12 L555.53 364.20 L555.60 276.26 L555.67 327.17 L555.74 500.70 L555.81 396.62 L555.88 281.57 L555.95 341.55 L556.02 300.91 L556.09 291.27 L556.16 274.91 L556.23 246.28 L556.30 284.10 L556.37 472.92 L556.44 479.58 L556.51 310.52 L556.58 363.93 L556.65 386.34 L556.72 297.23 L556.79 325.11 L556.86 403.78 L556.93 406.98 L557.00 426.85 L557.07 395.83 L557.14 326.37 L557.21 406.23 L557.28 432.27 L557.35 316.90 L557.42 473.52 L557.49 359.75 L557.56 459.57 L557.62 309.67 L557.69 287.74 L557.76 358.80 L557.83 366.49 L557.90 391.54 L557.97 353.77 L558.04 269.55 L558.10 294.61 L558.17 318.65 L558.24 265.30 L558.31 371.56 L558.38 472.91 L558.45 355.24 L558.51 353.88 L558.58 307.16 L558.65 405.97 L558.72 298.01 L558.79 380.83 L558.85 308.18 L558.92 336.98 L558.99 386.48 L559.06 364.39 L559.12 296.89 L559.19 311.56 L559.26 281.66 L559.33 455.35 L559.39 438.13 L559.46 286.50 L559.53 272.49 L559.59 372.11 L559.66 300.77 L559.73 294.10 L559.79 292.49 L559.86 285.03 L559.93 277.16 L559.99 323.06 L560.06 345.01 L560.13 501.77 L560.19 343.17 L560.26 477.64 L560.33 295.92 L560.39 427.69 L560.46 297.43 L560.53 318.29 L560.59 328.78 L560.66 352.71 L560.72 402.90 L560.79 324.06 L560.86 319.42 L560.92 294.36 L560.99 495.69 L561.05 364.28 L561.12 347.24 L561.18 342.68 L561.25 376.94 L561.32 347.67 L561.38 464.58 L561.45 309.48 L561.51 351.47 L561.58 299.97 L561.64 276.45 L561.71 252.35 L561.77 341.34 L561.84 488.10 L561.90 374.67 L561.97 371.67 L562.03 339.87 L562.10 363.91 L562.16 365.29 L562.23 458.34 L562.29 508.40 L562.35 316.87 L562.42 348.58 L562.48 326.65 L562.55 344.56 L562.61 362.28 L562.68 406.61 L562.74 329.47 L562.80 267.22 L562.87 291.20 L562.93 351.42 L563.00 323.62 L563.06 311.81 L563.12 328.16 L563.19 333.06 L563.25 375.14 L563.32 444.44 L563.38 499.20 L563.44 283.66 L563.51 369.17 L563.57 460.11 L563.63 333.95 L563.70 372.76 L563.76 306.67 L563.82 365.52 L563.89 342.49 L563.95 373.36 L564.01 395.15 L564.08 366.66 L564.14 390.47 L564.20 334.17 L564.26 438.36 L564.33 368.16 L564.39 375.24 L564.45 463.76 L564.52 271.59 L564.58 301.06 L564.64 358.49 L564.70 284.20 L564.77 295.74 L564.83 403.68 L564.89 331.51 L564.95 309.81 L565.01 344.91 L565.08 332.68 L565.14 255.69 L565.20 343.07 L565.26 336.14 L565.32 275.29 L565.39 335.46 L565.45 362.46 L565.51 403.15 L565.57 467.07 L565.63 333.37 L565.70 301.01 L565.76 477.51 L565.82 378.32 L565.88 310.08 L565.94 324.52 L566.00 298.87 L566.06 331.95 L566.13 281.70 L566.19 347.23 L566.25 343.40 L566.31 275.43 L566.37 319.36 L566.43 400.56 L566.49 324.52 L566.55 339.59 L566.61 378.25 L566.67 383.00 L566.74 342.37 L566.80 354.72 L566.86 313.26 L566.92 379.64" stroke="#ff7f0e" stroke-opacity="0.3" stroke-width="1.5"/>
<path d="M101.90 289.60 L131.60 420.00 L152.40 366.00 L168.60 411.00 L181.90 359.50 L193.00 373.00 L202.90 353.00 L211.30 407.50 L218.90 413.50 L225.40 432.00 L232.30 456.80 L238.20 436.40 L243.30 441.50 L248.40 375.10 L253.60 387.90 L257.00 436.40 L261.20 439.80 L265.50 431.30 L268.90 441.50 L273.10 427.90 L280.20 458.00 L285.00 481.60 L291.60 445.00 L293.75 441.89 L296.30 439.96 L298.77 432.88 L301.15 424.31 L303.46 432.92 L305.70 443.30 L307.87 449.94 L309.97 457.64 L312.02 461.04 L314.01 457.21 L315.95 461.53 L317.84 459.60 L319.68 453.82 L321.48 457.17 L323.23 461.00 L324.94 460.48 L326.61 454.63 L328.24 447.76 L329.84 452.91 L331.40 454.81 L332.93 454.51 L334.43 453.57 L335.90 451.01 L337.34 445.63 L338.75 438.98 L340.14 433.31 L341.50 430.87 L342.83 432.83 L344.14 431.90 L345.43 435.12 L346.69 442.29 L347.93 448.46 L349.15 450.86 L350.36 449.07 L351.54 446.01 L352.70 444.34 L353.85 445.18 L354.97 445.08 L356.08 444.82 L357.18 446.85 L358.25 450.34 L359.31 454.14 L360.36 459.63 L361.39 463.04 L362.41 460.95 L363.41 460.29 L364.40 457.89 L365.37 456.86 L366.34 459.70 L367.29 464.46 L368.23 469.26 L369.15 472.53 L370.07 474.34 L370.97 476.82 L371.86 478.92 L372.74 481.74 L373.61 483.72 L374.47 485.23 L375.32 482.64 L376.16 480.40 L376.99 477.65 L377.82 474.75 L378.63 472.58 L379.43 474.81 L380.23 475.34 L381.01 476.01 L381.79 477.03 L382.56 478.94 L383.32 477.10 L384.07 474.28 L384.82 469.97 L385.56 468.04 L386.29 465.33 L387.01 466.57 L387.73 467.34 L388.44 469.03 L389.14 465.25 L389.83 459.92 L390.52 455.23 L391.20 450.98 L391.88 452.33 L392.55 452.17 L393.21 452.45 L393.87 452.17 L394.52 451.83 L395.17 451.78 L395.81 451.31 L396.45 450.44 L397.08 448.65 L397.70 448.01 L398.32 446.92 L398.93 446.97 L399.54 447.07 L400.14 449.58 L400.74 450.11 L401.33 451.35 L401.92 450.40 L402.51 451.94 L403.09 452.40 L403.66 454.52 L404.23 455.60 L404.80 457.60 L405.36 458.44 L405.91 460.45 L406.47 460.87 L407.02 462.02 L407.56 461.58 L408.10 461.60 L408.64 462.07 L409.17 462.42 L409.70 461.37 L410.22 461.62 L410.74 463.23 L411.26 463.35 L411.78 462.18 L412.29 462.63 L412.79 463.50 L413.30 464.50 L413.80 464.67 L414.29 465.61 L414.78 466.22 L415.27 467.70 L415.76 465.61 L416.24 465.88 L416.72 465.73 L417.20 462.96 L417.67 461.62 L418.14 461.49 L418.61 460.84 L419.08 459.71 L419.54 457.55 L420.00 458.51 L420.45 459.91 L420.90 460.15 L421.35 461.24 L421.80 461.46 L422.25 462.89 L422.69 461.72 L423.13 462.03 L423.56 462.12 L424.00 463.11 L424.43 461.85 L424.86 463.40 L425.28 462.71 L425.71 461.96 L426.13 463.55 L426.55 462.73 L426.97 462.97 L427.38 461.69 L427.79 461.80 L428.20 462.28 L428.61 463.49 L429.01 463.74 L429.42 466.32 L429.82 465.52 L430.21 468.53 L430.61 468.27 L431.00 470.15 L431.40 469.62 L431.79 469.46 L432.17 469.78 L432.56 468.30 L432.94 466.97 L433.33 467.27 L433.70 466.98 L434.08 464.13 L434.46 466.09 L434.83 465.68 L435.20 463.14 L435.57 463.95 L435.94 464.33 L436.31 462.58 L436.67 462.81 L437.03 462.55 L437.40 462.86 L437.75 462.88 L438.11 461.64 L438.47 461.30 L438.82 461.59 L439.17 461.80 L439.52 461.81 L439.87 463.36 L440.22 461.80 L440.56 463.39 L440.91 463.38 L441.25 463.72 L441.59 464.62 L441.93 464.88 L442.27 467.04 L442.60 466.08 L442.94 466.25 L443.27 467.21 L443.60 466.66 L443.93 464.45 L444.26 465.81 L444.58 466.15 L444.91 465.03 L445.23 465.57 L445.56 464.89 L445.88 465.38 L446.20 463.80 L446.51 463.47 L446.83 464.42 L447.15 464.91 L447.46 465.63 L447.77 464.33 L448.08 463.84 L448.39 465.96 L448.70 466.23 L449.01 468.43 L449.32 467.92 L449.62 467.44 L449.93 469.19 L450.23 470.00 L450.53 470.63 L450.83 472.06 L451.13 473.12 L451.42 474.43 L451.72 474.70 L452.01 475.07 L452.31 474.73 L452.60 474.18 L452.89 473.80 L453.18 471.84 L453.47 471.56 L453.76 471.69 L454.05 472.06 L454.33 470.33 L454.62 470.66 L454.90 470.73 L455.18 471.63 L455.46 470.00 L455.74 469.11 L456.02 470.05 L456.30 469.17 L456.58 468.59 L456.85 469.76 L457.13 468.63 L457.40 469.83 L457.67 470.12 L457.95 471.08 L458.22 469.90 L458.49 470.10 L458.76 471.06 L459.02 471.41 L459.29 471.88 L459.56 471.79 L459.82 472.60 L460.08 472.99 L460.35 472.84 L460.61 472.09 L460.87 473.95 L461.13 472.18 L461.39 473.41 L461.65 474.49 L461.91 473.65 L462.16 475.37 L462.42 476.13 L462.67 476.18 L462.93 475.64 L463.18 476.34 L463.43 475.51 L463.68 476.45 L463.93 476.75 L464.18 476.72 L464.43 476.99 L464.68 476.93 L464.92 475.82 L465.17 477.78 L465.42 477.94 L465.66 479.46 L465.90 478.68 L466.15 478.43 L466.39 479.26 L466.63 479.30 L466.87 479.06 L467.11 479.02 L467.35 478.45 L467.59 479.87 L467.82 481.21 L468.06 478.83 L468.29 479.71 L468.53 481.18 L468.76 480.95 L469.00 481.30 L469.23 479.77 L469.46 480.88 L469.69 481.86 L469.92 482.10 L470.15 482.06 L470.38 481.37 L470.61 482.63 L470.84 481.54 L471.06 481.95 L471.29 482.00 L471.52 484.18 L471.74 483.02 L471.96 483.60 L472.19 482.14 L472.41 484.82 L472.63 484.49 L472.85 482.59 L473.07 482.31 L473.29 484.42 L473.51 482.16 L473.73 483.92 L473.95 481.87 L474.17 480.05 L474.38 482.41 L474.60 481.62 L474.82 481.42 L475.03 480.19 L475.24 480.05 L475.46 480.55 L475.67 478.83 L475.88 477.56 L476.09 479.29 L476.31 477.72 L476.52 478.69 L476.73 476.93 L476.93 476.62 L477.14 476.44 L477.35 474.58 L477.56 476.96 L477.77 475.37 L477.97 475.49 L478.18 476.56 L478.38 475.41 L478.59 475.89 L478.79 475.39 L478.99 475.67 L479.20 475.27 L479.40 475.91 L479.60 474.88 L479.80 475.37 L480.00 474.48 L480.20 475.88 L480.40 473.33 L480.60 475.07 L480.80 475.15 L481.00 475.08 L481.19 474.74 L481.39 475.67 L481.59 476.16 L481.78 474.03 L481.98 472.90 L482.17 473.30 L482.37 473.29 L482.56 473.58 L482.75 473.43 L482.95 474.08 L483.14 472.74 L483.33 472.84 L483.52 472.76 L483.71 471.82 L483.90 472.06 L484.09 474.18 L484.28 471.85 L484.47 471.01 L484.66 469.91 L484.84 472.12 L485.03 470.89 L485.22 470.45 L485.40 472.54 L485.59 471.55 L485.77 468.96 L485.96 469.74 L486.14 470.50 L486.33 470.27 L486.51 468.76 L486.69 470.87 L486.88 470.86 L487.06 468.56 L487.24 467.98 L487.42 468.16 L487.60 469.60 L487.78 469.79 L487.96 469.00 L488.14 468.28 L488.32 468.53 L488.50 468.88 L488.68 467.41 L488.85 466.90 L489.03 467.97 L489.21 468.82 L489.38 467.91 L489.56 467.78 L489.73 467.00 L489.91 468.08 L490.08 465.99 L490.26 467.10 L490.43 466.63 L490.60 467.05 L490.78 466.57 L490.95 467.92 L491.12 467.39 L491.29 467.09 L491.46 468.01 L491.64 467.67 L491.81 467.41 L491.98 467.45 L492.15 468.57 L492.31 467.38 L492.48 468.02 L492.65 468.11 L492.82 468.67 L492.99 468.43 L493.16 470.34 L493.32 467.57 L493.49 469.50 L493.65 469.21 L493.82 470.26 L493.99 468.40 L494.15 470.73 L494.32 468.99 L494.48 470.75 L494.64 470.81 L494.81 470.65 L494.97 470.26 L495.13 470.38 L495.30 471.24 L495.46 470.77 L495.62 470.00 L495.78 470.12 L495.94 472.07 L496.10 472.07 L496.26 471.82 L496.42 471.44 L496.58 471.65 L496.74 471.69 L496.90 471.46 L497.06 470.63 L497.22 470.62 L497.37 470.26 L497.53 471.19 L497.69 470.28 L497.85 470.87 L498.00 471.94 L498.16 470.65 L498.31 471.64 L498.47 472.07 L498.63 469.54 L498.78 469.84 L498.93 471.29 L499.09 470.44 L499.24 471.41 L499.40 471.59 L499.55 470.74 L499.70 471.82 L499.86 472.56 L500.01 471.98 L500.16 470.63 L500.31 471.20 L500.46 470.94 L500.61 472.55 L500.76 471.27 L500.91 470.93 L501.06 471.51 L501.21 471.89 L501.36 471.24 L501.51 471.62 L501.66 471.53 L501.81 472.08 L501.96 472.24 L502.11 471.68 L502.25 471.09 L502.40 471.69 L502.55 470.67 L502.69 472.08 L502.84 471.47 L502.99 471.33 L503.13 469.27 L503.28 472.80 L503.42 472.06 L503.57 471.87 L503.71 470.96 L503.86 471.33 L504.00 472.93 L504.15 470.25 L504.29 471.30 L504.43 471.18 L504.57 470.82 L504.72 470.96 L504.86 469.95 L505.00 471.71 L505.14 470.99 L505.29 474.09 L505.43 474.06 L505.57 473.56 L505.71 473.36 L505.85 475.74 L505.99 476.77 L506.13 476.37 L506.27 479.10 L506.41 478.77 L506.55 478.94 L506.69 478.42 L506.82 479.25 L506.96 479.05 L507.10 479.56 L507.24 479.73 L507.38 478.85 L507.51 479.05 L507.65 479.66 L507.79 478.94 L507.92 478.17 L508.06 478.72 L508.20 477.75 L508.33 478.37 L508.47 477.95 L508.60 476.97 L508.74 478.13 L508.87 477.61 L509.01 477.97 L509.14 476.28 L509.28 477.97 L509.41 477.84 L509.54 476.56 L509.68 476.57 L509.81 476.51 L509.94 476.27 L510.07 476.72 L510.21 475.36 L510.34 474.82 L510.47 475.29 L510.60 476.68 L510.73 474.74 L510.86 474.06 L511.00 474.08 L511.13 474.91 L511.26 475.68 L511.39 474.27 L511.52 474.97 L511.65 475.03 L511.78 475.25 L511.90 475.04 L512.03 475.76 L512.16 475.53 L512.29 474.61 L512.42 476.95 L512.55 474.17 L512.68 474.28 L512.80 476.12 L512.93 475.56 L513.06 475.32 L513.18 475.75 L513.31 476.22 L513.44 475.48 L513.56 475.43 L513.69 475.23 L513.82 475.48 L513.94 475.64 L514.07 477.21 L514.19 476.67 L514.32 476.99 L514.44 476.28 L514.57 477.60 L514.69 475.77 L514.82 477.41 L514.94 477.70 L515.06 476.87 L515.19 476.66 L515.31 477.94 L515.43 477.14 L515.56 477.13 L515.68 477.91 L515.80 477.22 L515.92 478.08 L516.05 479.85 L516.17 478.20 L516.29 479.40 L516.41 478.12 L516.53 479.16 L516.65 479.08 L516.77 479.35 L516.89 480.22 L517.01 481.45 L517.13 479.92 L517.25 481.18 L517.37 480.63 L517.49 481.10 L517.61 480.36 L517.73 480.35 L517.85 480.90 L517.97 480.63 L518.09 481.37 L518.21 480.74 L518.33 481.69 L518.44 481.98 L518.56 483.36 L518.68 483.44 L518.80 482.68 L518.91 482.06 L519.03 483.04 L519.15 483.34 L519.27 482.72 L519.38 482.36 L519.50 481.79 L519.61 483.24 L519.73 484.85 L519.85 483.38 L519.96 483.96 L520.08 484.07 L520.19 484.29 L520.31 484.63 L520.42 482.47 L520.54 483.79 L520.65 484.11 L520.77 483.68 L520.88 484.59 L521.00 483.33 L521.11 484.23 L521.22 484.79 L521.34 483.21 L521.45 483.35 L521.56 483.04 L521.68 483.76 L521.79 481.51 L521.90 481.95 L522.01 482.75 L522.13 483.55 L522.24 483.27 L522.35 482.13 L522.46 483.88 L522.57 482.68 L522.68 482.05 L522.80 482.84 L522.91 483.34 L523.02 482.23 L523.13 481.06 L523.24 481.71 L523.35 482.12 L523.46 482.68 L523.57 481.14 L523.68 482.02 L523.79 480.86 L523.90 481.74 L524.01 480.61 L524.12 481.19 L524.23 480.33 L524.34 480.68 L524.44 480.16 L524.55 479.87 L524.66 482.31 L524.77 482.33 L524.88 481.85 L524.99 481.28 L525.09 482.70 L525.20 481.44 L525.31 482.02 L525.42 482.61 L525.52 481.97 L525.63 482.97 L525.74 481.80 L525.84 481.84 L525.95 482.10 L526.06 481.17 L526.16 481.28 L526.27 482.71 L526.37 480.86 L526.48 483.04 L526.59 482.42 L526.69 483.13 L526.80 482.84 L526.90 482.74 L527.01 483.61 L527.11 482.26 L527.22 482.25 L527.32 483.18 L527.42 481.84 L527.53 483.19 L527.63 482.85 L527.74 481.95 L527.84 481.36 L527.94 480.79 L528.05 483.71 L528.15 481.18 L528.25 481.38 L528.36 482.94 L528.46 482.63 L528.56 482.43 L528.67 482.34 L528.77 481.95 L528.87 481.46 L528.97 481.41 L529.07 482.24 L529.18 482.43 L529.28 482.34 L529.38 481.26 L529.48 479.44 L529.58 481.35 L529.68 480.70 L529.78 478.65 L529.89 481.56 L529.99 480.54 L530.09 480.19 L530.19 480.23 L530.29 480.04 L530.39 479.99 L530.49 479.75 L530.59 479.55 L530.69 479.82 L530.79 479.52 L530.89 480.93 L530.99 479.08 L531.09 478.45 L531.18 478.25 L531.28 478.85 L531.38 478.51 L531.48 478.46 L531.58 477.98 L531.68 477.86 L531.78 478.42 L531.87 478.73 L531.97 477.82 L532.07 477.34 L532.17 476.40 L532.27 476.26 L532.36 477.02 L532.46 476.65 L532.56 476.62 L532.65 475.72 L532.75 476.32 L532.85 474.81 L532.95 475.23 L533.04 475.49 L533.14 476.61 L533.23 475.79 L533.33 475.62 L533.43 476.62 L533.52 476.42 L533.62 477.27 L533.71 476.90 L533.81 476.90 L533.91 476.68 L534.00 477.40 L534.10 476.44 L534.19 475.93 L534.29 477.84 L534.38 476.89 L534.48 477.36 L534.57 477.88 L534.66 478.27 L534.76 475.41 L534.85 476.89 L534.95 478.69 L535.04 476.58 L535.14 478.32 L535.23 477.78 L535.32 477.49 L535.42 478.16 L535.51 477.09 L535.60 478.78 L535.70 479.47 L535.79 477.62 L535.88 478.31 L535.97 479.83 L536.07 479.33 L536.16 478.93 L536.25 480.38 L536.34 478.17 L536.44 479.35 L536.53 479.76 L536.62 479.58 L536.71 480.55 L536.80 478.83 L536.90 480.26 L536.99 479.76 L537.08 481.39 L537.17 481.41 L537.26 480.19 L537.35 480.06 L537.44 480.98 L537.53 480.49 L537.62 480.84 L537.72 481.71 L537.81 481.17 L537.90 482.99 L537.99 481.80 L538.08 481.46 L538.17 481.13 L538.26 481.69 L538.35 483.01 L538.44 482.70 L538.53 483.46 L538.62 483.46 L538.70 482.99 L538.79 482.14 L538.88 482.63 L538.97 482.88 L539.06 481.67 L539.15 483.24 L539.24 482.29 L539.33 483.08 L539.42 482.83 L539.50 483.72 L539.59 485.33 L539.68 482.52 L539.77 483.47 L539.86 485.08 L539.94 482.90 L540.03 483.49 L540.12 483.63 L540.21 484.00 L540.29 482.61 L540.38 484.11 L540.47 484.38 L540.56 485.89 L540.64 483.97 L540.73 483.64 L540.82 484.22 L540.90 482.20 L540.99 484.47 L541.08 485.43 L541.16 484.28 L541.25 484.32 L541.34 484.20 L541.42 484.53 L541.51 483.54 L541.59 485.68 L541.68 484.21 L541.76 484.26 L541.85 485.89 L541.94 484.70 L542.02 484.41 L542.11 486.01 L542.19 484.95 L542.28 485.56 L542.36 484.46 L542.45 483.60 L542.53 485.11 L542.62 486.10 L542.70 484.71 L542.78 485.38 L542.87 485.69 L542.95 485.39 L543.04 485.29 L543.12 485.86 L543.21 485.48 L543.29 484.97 L543.37 486.21 L543.46 486.07 L543.54 485.79 L543.62 486.10 L543.71 483.62 L543.79 485.86 L543.87 485.74 L543.96 484.26 L544.04 487.37 L544.12 486.14 L544.21 485.65 L544.29 485.81 L544.37 486.40 L544.45 486.30 L544.54 485.21 L544.62 486.23 L544.70 486.97 L544.78 487.21 L544.87 487.51 L544.95 486.17 L545.03 486.60 L545.11 487.46 L545.19 486.83 L545.27 487.56 L545.36 486.88 L545.44 488.06 L545.52 487.78 L545.60 488.28 L545.68 487.97 L545.76 487.46 L545.84 487.25 L545.92 488.31 L546.01 487.92 L546.09 487.37 L546.17 488.19 L546.25 489.31 L546.33 489.76 L546.41 489.51 L546.49 490.07 L546.57 488.88 L546.65 489.16 L546.73 488.67 L546.81 488.93 L546.89 490.84 L546.97 490.08 L547.05 490.36 L547.13 491.96 L547.21 491.58 L547.29 489.60 L547.37 491.12 L547.44 489.94 L547.52 491.39 L547.60 489.37 L547.68 490.21 L547.76 490.37 L547.84 492.71 L547.92 490.00 L548.00 492.33 L548.08 492.45 L548.15 491.87 L548.23 492.56 L548.31 494.03 L548.39 492.43 L548.47 492.18 L548.54 493.57 L548.62 493.29 L548.70 491.98 L548.78 493.15 L548.86 493.38 L548.93 492.46 L549.01 492.76 L549.09 493.14 L549.17 492.88 L549.24 494.33 L549.32 494.29 L549.40 492.51 L549.47 494.00 L549.55 494.57 L549.63 493.55 L549.71 494.49 L549.78 495.04 L549.86 493.65 L549.94 494.83 L550.01 493.39 L550.09 495.87 L550.16 494.85 L550.24 494.42 L550.32 494.23 L550.39 494.49 L550.47 496.82 L550.54 495.31 L550.62 495.61 L550.70 495.85 L550.77 495.10 L550.85 496.92 L550.92 494.52 L551.00 497.20 L551.07 496.03 L551.15 496.72 L551.22 497.00 L551.30 497.49 L551.37 495.98 L551.45 497.47 L551.52 497.04 L551.60 497.03 L551.67 497.00 L551.75 498.14 L551.82 497.71 L551.90 498.39 L551.97 498.18 L552.05 496.04 L552.12 497.53 L552.20 498.44 L552.27 497.04 L552.34 496.50 L552.42 496.09 L552.49 499.42 L552.57 497.25 L552.64 498.15 L552.71 497.25 L552.79 498.45 L552.86 499.45 L552.93 497.14 L553.01 498.25 L553.08 497.78 L553.15 496.98 L553.23 497.80 L553.30 498.56 L553.37 499.55 L553.45 499.64 L553.52 498.71 L553.59 497.52 L553.66 499.36 L553.74 498.91 L553.81 498.97 L553.88 498.17 L553.95 498.99 L554.03 500.68 L554.10 500.39 L554.17 500.29 L554.24 499.90 L554.32 499.17 L554.39 499.62 L554.46 499.89 L554.53 500.22 L554.60 499.81 L554.67 499.56 L554.75 501.23 L554.82 500.24 L554.89 501.32 L554.96 500.70 L555.03 501.50 L555.10 501.53 L555.17 501.86 L555.25 501.97 L555.32 500.87 L555.39 500.70 L555.46 501.86 L555.53 503.31 L555.60 501.56 L555.67 501.64 L555.74 504.24 L555.81 501.46 L555.88 502.36 L555.95 502.63 L556.02 502.58 L556.09 502.75 L556.16 504.22 L556.23 503.69 L556.30 503.82 L556.37 502.56 L556.44 504.58 L556.51 504.24 L556.58 504.37 L556.65 505.03 L556.72 504.78 L556.79 504.66 L556.86 505.14 L556.93 504.42 L557.00 504.40 L557.07 504.20 L557.14 506.10 L557.21 505.00 L557.28 505.77 L557.35 506.62 L557.42 507.28 L557.49 505.76 L557.56 506.29 L557.62 506.36 L557.69 505.42 L557.76 506.13 L557.83 508.71 L557.90 506.60 L557.97 508.08 L558.04 507.38 L558.10 508.22 L558.17 507.96 L558.24 507.19 L558.31 506.15 L558.38 508.27 L558.45 507.79 L558.51 507.70 L558.58 508.07 L558.65 506.89 L558.72 507.67 L558.79 507.65 L558.85 506.61 L558.92 506.91 L558.99 507.82 L559.06 506.31 L559.12 508.66 L559.19 508.78 L559.26 508.23 L559.33 508.61 L559.39 507.10 L559.46 508.73 L559.53 509.27 L559.59 509.20 L559.66 509.62 L559.73 508.98 L559.79 510.67 L559.86 509.60 L559.93 509.99 L559.99 510.33 L560.06 509.05 L560.13 508.90 L560.19 510.48 L560.26 509.06 L560.33 509.69 L560.39 511.04 L560.46 509.59 L560.53 509.81 L560.59 509.75 L560.66 510.05 L560.72 512.42 L560.79 511.55 L560.86 512.01 L560.92 509.94 L560.99 509.73 L561.05 510.84 L561.12 512.67 L561.18 512.92 L561.25 510.66 L561.32 510.99 L561.38 512.97 L561.45 512.82 L561.51 513.11 L561.58 513.44 L561.64 512.31 L561.71 513.33 L561.77 513.17 L561.84 514.47 L561.90 513.45 L561.97 512.39 L562.03 514.95 L562.10 515.51 L562.16 515.02 L562.23 514.17 L562.29 513.83 L562.35 515.47 L562.42 514.43 L562.48 515.37 L562.55 515.70 L562.61 515.13 L562.68 513.84 L562.74 515.88 L562.80 514.85 L562.87 514.54 L562.93 515.82 L563.00 516.08 L563.06 516.02 L563.12 516.68 L563.19 514.85 L563.25 516.86 L563.32 517.75 L563.38 516.55 L563.44 516.33 L563.51 516.67 L563.57 517.83 L563.63 516.84 L563.70 516.47 L563.76 515.86 L563.82 518.32 L563.89 518.41 L563.95 517.40 L564.01 519.06 L564.08 517.25 L564.14 518.17 L564.20 516.69 L564.26 517.00 L564.33 517.83 L564.39 518.26 L564.45 518.44 L564.52 517.35 L564.58 517.70 L564.64 518.08 L564.70 518.02 L564.77 518.10 L564.83 518.98 L564.89 519.31 L564.95 517.08 L565.01 519.56 L565.08 518.76 L565.14 518.94 L565.20 519.02 L565.26 519.54 L565.32 519.43 L565.39 517.80 L565.45 519.70 L565.51 518.26 L565.57 519.48 L565.63 519.43 L565.70 518.17 L565.76 519.43 L565.82 519.30 L565.88 519.07 L565.94 521.21 L566.00 519.86 L566.06 519.54 L566.13 521.24 L566.19 519.97 L566.25 519.97 L566.31 518.64 L566.37 520.71 L566.43 521.10 L566.49 521.89 L566.55 519.75 L566.61 521.41 L566.67 521.77 L566.74 521.35 L566.80 520.89 L566.86 519.72 L566.92 521.22 L568.00 522.00" stroke="#1f77b4" stroke-width="4.17"/>
<path d="M101.90 184.50 L152.40 390.00 L168.60 161.60 L181.90 254.00 L193.00 195.50 L202.90 190.50 L211.30 540.00 L219.00 475.00 L225.40 372.60 L238.20 357.30 L243.40 320.60 L249.30 309.30 L253.10 263.40 L261.50 285.90 L265.30 286.00 L271.80 301.80 L276.50 350.00 L282.60 385.00 L285.90 417.90 L289.20 442.10 L292.50 437.70 L293.75 432.37 L296.30 418.04 L298.77 410.22 L301.15 393.55 L303.46 367.33 L305.70 357.35 L307.87 347.30 L309.97 343.21 L312.02 337.75 L314.01 337.18 L315.95 336.42 L317.84 338.20 L319.68 339.51 L321.48 341.40 L323.23 333.50 L324.94 326.54 L326.61 322.15 L328.24 333.74 L329.84 343.68 L331.40 351.44 L332.93 352.04 L334.43 352.71 L335.90 353.32 L337.34 350.38 L338.75 351.20 L340.14 353.48 L341.50 359.34 L342.83 362.16 L344.14 367.69 L345.43 372.71 L346.69 375.42 L347.93 374.91 L349.15 375.86 L350.36 374.63 L351.54 369.21 L352.70 366.23 L353.85 362.82 L354.97 356.43 L356.08 353.17 L357.18 352.86 L358.25 351.42 L359.31 348.37 L360.36 346.82 L361.39 343.92 L362.41 337.48 L363.41 335.74 L364.40 332.39 L365.37 327.45 L366.34 324.73 L367.29 323.98 L368.23 320.41 L369.15 320.19 L370.07 318.83 L370.97 323.85 L371.86 328.70 L372.74 336.19 L373.61 334.68 L374.47 334.71 L375.32 332.81 L376.16 331.66 L376.99 328.28 L377.82 322.45 L378.63 319.07 L379.43 315.06 L380.23 313.34 L381.01 309.57 L381.79 311.25 L382.56 314.92 L383.32 317.63 L384.07 323.98 L384.82 326.58 L385.56 332.39 L386.29 333.90 L387.01 333.74 L387.73 330.96 L388.44 328.10 L389.14 327.80 L389.83 327.13 L390.52 327.07 L391.20 328.57 L391.88 328.66 L392.55 327.75 L393.21 328.30 L393.87 328.97 L394.52 327.63 L395.17 325.90 L395.81 325.06 L396.45 325.87 L397.08 327.35 L397.70 328.11 L398.32 330.90 L398.93 331.10 L399.54 334.01 L400.14 333.81 L400.74 334.21 L401.33 333.60 L401.92 334.04 L402.51 333.50 L403.09 333.75 L403.66 333.55 L404.23 334.85 L404.80 331.76 L405.36 332.69 L405.91 330.67 L406.47 328.03 L407.02 328.28 L407.56 326.24 L408.10 324.07 L408.64 326.30 L409.17 327.37 L409.70 328.56 L410.22 330.55 L410.74 332.04 L411.26 331.15 L411.78 330.95 L412.29 331.21 L412.79 330.24 L413.30 329.80 L413.80 328.81 L414.29 329.31 L414.78 328.42 L415.27 326.13 L415.76 323.83 L416.24 320.87 L416.72 317.37 L417.20 314.23 L417.67 312.28 L418.14 310.10 L418.61 308.77 L419.08 306.77 L419.54 307.36 L420.00 305.62 L420.45 305.82 L420.90 305.04 L421.35 303.92 L421.80 303.96 L422.25 303.21 L422.69 303.49 L423.13 302.58 L423.56 303.12 L424.00 302.98 L424.43 303.14 L424.86 302.93 L425.28 300.79 L425.71 302.07 L426.13 300.89 L426.55 297.70 L426.97 298.37 L427.38 297.86 L427.79 296.62 L428.20 295.61 L428.61 293.97 L429.01 292.78 L429.42 293.71 L429.82 292.59 L430.21 293.49 L430.61 292.24 L431.00 293.02 L431.40 292.99 L431.79 293.02 L432.17 291.56 L432.56 294.27 L432.94 292.74 L433.33 292.28 L433.70 292.78 L434.08 293.37 L434.46 297.86 L434.83 298.69 L435.20 301.34 L435.57 302.24 L435.94 300.43 L436.31 301.11 L436.67 301.88 L437.03 299.90 L437.40 300.19 L437.75 300.25 L438.11 300.17 L438.47 297.86 L438.82 298.79 L439.17 298.08 L439.52 297.56 L439.87 298.30 L440.22 298.78 L440.56 298.13 L440.91 299.86 L441.25 299.66 L441.59 300.96 L441.93 301.00 L442.27 303.02 L442.60 303.22 L442.94 303.51 L443.27 303.26 L443.60 304.71 L443.93 304.26 L444.26 305.64 L444.58 306.24 L444.91 309.35 L445.23 309.52 L445.56 311.78 L445.88 313.14 L446.20 314.25 L446.51 314.39 L446.83 316.97 L447.15 317.95 L447.46 316.36 L447.77 316.88 L448.08 315.30 L448.39 315.07 L448.70 315.31 L449.01 313.86 L449.32 313.99 L449.62 312.43 L449.93 311.66 L450.23 311.48 L450.53 310.30 L450.83 309.13 L451.13 308.73 L451.42 307.83 L451.72 305.65 L452.01 306.42 L452.31 307.80 L452.60 309.11 L452.89 308.31 L453.18 308.20 L453.47 309.97 L453.76 310.14 L454.05 312.23 L454.33 309.91 L454.62 312.80 L454.90 313.20 L455.18 310.61 L455.46 311.39 L455.74 311.52 L456.02 311.55 L456.30 310.86 L456.58 310.89 L456.85 310.18 L457.13 309.04 L457.40 310.48 L457.67 309.06 L457.95 307.80 L458.22 308.38 L458.49 307.48 L458.76 306.82 L459.02 306.19 L459.29 305.30 L459.56 305.93 L459.82 305.82 L460.08 305.47 L460.35 307.50 L460.61 307.55 L460.87 307.36 L461.13 306.90 L461.39 307.34 L461.65 309.31 L461.91 307.69 L462.16 309.16 L462.42 308.98 L462.67 309.29 L462.93 308.76 L463.18 309.14 L463.43 309.47 L463.68 308.92 L463.93 310.99 L464.18 309.60 L464.43 310.59 L464.68 312.05 L464.92 312.10 L465.17 310.82 L465.42 313.72 L465.66 316.40 L465.90 316.44 L466.15 321.70 L466.39 322.79 L466.63 324.37 L466.87 326.70 L467.11 327.23 L467.35 331.19 L467.59 332.07 L467.82 330.96 L468.06 332.51 L468.29 332.02 L468.53 330.72 L468.76 332.36 L469.00 330.65 L469.23 331.00 L469.46 333.14 L469.69 333.34 L469.92 333.13 L470.15 333.43 L470.38 332.69 L470.61 334.96 L470.84 334.57 L471.06 334.84 L471.29 338.13 L471.52 336.09 L471.74 336.34 L471.96 338.36 L472.19 337.95 L472.41 338.31 L472.63 340.76 L472.85 340.44 L473.07 340.87 L473.29 342.11 L473.51 343.28 L473.73 344.82 L473.95 345.92 L474.17 344.86 L474.38 347.48 L474.60 346.80 L474.82 347.63 L475.03 346.69 L475.24 350.53 L475.46 350.35 L475.67 350.32 L475.88 350.92 L476.09 352.33 L476.31 352.13 L476.52 350.39 L476.73 353.34 L476.93 353.61 L477.14 354.23 L477.35 354.67 L477.56 355.79 L477.77 355.11 L477.97 357.93 L478.18 356.84 L478.38 356.75 L478.59 357.96 L478.79 357.18 L478.99 358.50 L479.20 358.20 L479.40 358.18 L479.60 359.70 L479.80 359.47 L480.00 358.69 L480.20 359.13 L480.40 360.02 L480.60 361.67 L480.80 360.02 L481.00 360.15 L481.19 360.79 L481.39 359.63 L481.59 360.65 L481.78 361.42 L481.98 361.32 L482.17 361.44 L482.37 360.43 L482.56 361.54 L482.75 362.77 L482.95 363.91 L483.14 362.83 L483.33 361.89 L483.52 362.18 L483.71 362.61 L483.90 364.60 L484.09 362.20 L484.28 363.28 L484.47 362.42 L484.66 363.60 L484.84 363.90 L485.03 365.03 L485.22 365.16 L485.40 364.89 L485.59 364.21 L485.77 363.79 L485.96 365.01 L486.14 363.34 L486.33 362.23 L486.51 362.14 L486.69 362.35 L486.88 361.34 L487.06 360.34 L487.24 361.84 L487.42 360.18 L487.60 360.18 L487.78 359.92 L487.96 359.21 L488.14 358.84 L488.32 356.57 L488.50 358.11 L488.68 357.45 L488.85 356.87 L489.03 356.67 L489.21 357.95 L489.38 357.09 L489.56 355.94 L489.73 356.11 L489.91 354.16 L490.08 353.98 L490.26 353.93 L490.43 353.81 L490.60 353.31 L490.78 353.55 L490.95 351.43 L491.12 351.92 L491.29 349.81 L491.46 350.10 L491.64 348.36 L491.81 349.48 L491.98 347.58 L492.15 348.45 L492.31 345.51 L492.48 347.85 L492.65 346.01 L492.82 345.93 L492.99 345.41 L493.16 343.54 L493.32 343.99 L493.49 343.63 L493.65 343.70 L493.82 342.30 L493.99 342.96 L494.15 343.48 L494.32 344.24 L494.48 343.90 L494.64 342.41 L494.81 343.91 L494.97 344.39 L495.13 343.69 L495.30 342.74 L495.46 342.21 L495.62 342.42 L495.78 343.82 L495.94 341.66 L496.10 340.35 L496.26 342.71 L496.42 341.31 L496.58 341.52 L496.74 341.04 L496.90 341.94 L497.06 340.56 L497.22 340.06 L497.37 339.77 L497.53 341.47 L497.69 341.04 L497.85 339.41 L498.00 339.09 L498.16 339.17 L498.31 339.48 L498.47 338.22 L498.63 339.83 L498.78 338.70 L498.93 336.33 L499.09 337.35 L499.24 337.62 L499.40 339.04 L499.55 337.81 L499.70 336.14 L499.86 334.49 L500.01 334.68 L500.16 334.14 L500.31 333.15 L500.46 332.97 L500.61 332.79 L500.76 331.27 L500.91 330.15 L501.06 330.51 L501.21 328.60 L501.36 328.81 L501.51 329.44 L501.66 328.08 L501.81 326.42 L501.96 326.69 L502.11 325.92 L502.25 325.88 L502.40 326.68 L502.55 325.64 L502.69 325.22 L502.84 327.47 L502.99 325.75 L503.13 326.98 L503.28 326.94 L503.42 326.49 L503.57 327.27 L503.71 327.18 L503.86 327.16 L504.00 327.67 L504.15 326.62 L504.29 327.92 L504.43 326.62 L504.57 328.05 L504.72 328.36 L504.86 326.76 L505.00 328.89 L505.14 326.93 L505.29 327.39 L505.43 326.83 L505.57 327.25 L505.71 327.54 L505.85 327.05 L505.99 328.27 L506.13 326.97 L506.27 327.84 L506.41 326.84 L506.55 326.99 L506.69 327.82 L506.82 328.00 L506.96 327.39 L507.10 327.83 L507.24 327.84 L507.38 326.91 L507.51 327.37 L507.65 326.62 L507.79 326.20 L507.92 326.67 L508.06 326.88 L508.20 327.87 L508.33 327.30 L508.47 326.93 L508.60 325.15 L508.74 326.01 L508.87 327.01 L509.01 327.00 L509.14 326.49 L509.28 325.51 L509.41 324.87 L509.54 325.00 L509.68 326.30 L509.81 326.40 L509.94 327.37 L510.07 325.44 L510.21 326.10 L510.34 325.18 L510.47 325.52 L510.60 325.65 L510.73 325.09 L510.86 326.45 L511.00 324.47 L511.13 325.78 L511.26 324.91 L511.39 324.59 L511.52 325.82 L511.65 324.69 L511.78 325.45 L511.90 325.32 L512.03 325.94 L512.16 324.60 L512.29 325.79 L512.42 326.02 L512.55 325.25 L512.68 325.06 L512.80 325.12 L512.93 325.95 L513.06 325.47 L513.18 326.54 L513.31 326.14 L513.44 326.13 L513.56 326.39 L513.69 326.57 L513.82 326.71 L513.94 327.17 L514.07 327.71 L514.19 327.29 L514.32 327.48 L514.44 328.36 L514.57 328.50 L514.69 327.56 L514.82 326.85 L514.94 328.68 L515.06 327.34 L515.19 327.53 L515.31 327.65 L515.43 328.14 L515.56 326.81 L515.68 328.33 L515.80 329.72 L515.92 330.96 L516.05 329.63 L516.17 330.23 L516.29 330.66 L516.41 329.90 L516.53 329.97 L516.65 331.30 L516.77 332.19 L516.89 331.76 L517.01 332.23 L517.13 332.24 L517.25 332.45 L517.37 332.44 L517.49 333.91 L517.61 333.98 L517.73 333.50 L517.85 334.04 L517.97 334.53 L518.09 335.13 L518.21 335.98 L518.33 336.06 L518.44 334.98 L518.56 335.38 L518.68 335.22 L518.80 336.24 L518.91 336.71 L519.03 334.92 L519.15 336.47 L519.27 337.72 L519.38 335.85 L519.50 338.34 L519.61 338.34 L519.73 337.41 L519.85 337.36 L519.96 339.73 L520.08 338.50 L520.19 338.18 L520.31 339.53 L520.42 338.80 L520.54 339.45 L520.65 341.73 L520.77 340.12 L520.88 340.36 L521.00 339.26 L521.11 339.88 L521.22 341.34 L521.34 340.90 L521.45 341.41 L521.56 341.38 L521.68 340.84 L521.79 340.38 L521.90 339.07 L522.01 341.53 L522.13 340.79 L522.24 342.64 L522.35 340.59 L522.46 340.59 L522.57 340.30 L522.68 339.71 L522.80 340.62 L522.91 340.81 L523.02 340.69 L523.13 340.26 L523.24 339.85 L523.35 341.25 L523.46 341.09 L523.57 339.82 L523.68 339.29 L523.79 339.70 L523.90 339.64 L524.01 340.87 L524.12 339.40 L524.23 340.28 L524.34 339.19 L524.44 339.82 L524.55 341.83 L524.66 339.31 L524.77 340.08 L524.88 339.37 L524.99 340.53 L525.09 339.90 L525.20 339.61 L525.31 340.85 L525.42 340.56 L525.52 340.59 L525.63 339.39 L525.74 339.77 L525.84 341.69 L525.95 339.90 L526.06 342.16 L526.16 342.31 L526.27 341.11 L526.37 340.80 L526.48 340.68 L526.59 342.37 L526.69 342.34 L526.80 341.51 L526.90 341.48 L527.01 342.79 L527.11 342.11 L527.22 342.74 L527.32 341.78 L527.42 343.40 L527.53 343.36 L527.63 343.06 L527.74 342.70 L527.84 343.69 L527.94 344.18 L528.05 344.39 L528.15 344.33 L528.25 343.85 L528.36 345.07 L528.46 345.61 L528.56 344.47 L528.67 344.14 L528.77 346.35 L528.87 345.58 L528.97 344.17 L529.07 346.39 L529.18 346.08 L529.28 345.61 L529.38 346.37 L529.48 345.67 L529.58 346.02 L529.68 345.62 L529.78 347.90 L529.89 346.82 L529.99 347.55 L530.09 347.85 L530.19 345.84 L530.29 348.09 L530.39 347.31 L530.49 349.28 L530.59 347.65 L530.69 349.38 L530.79 350.19 L530.89 349.35 L530.99 350.13 L531.09 350.58 L531.18 349.90 L531.28 349.78 L531.38 349.07 L531.48 351.73 L531.58 351.29 L531.68 351.21 L531.78 349.63 L531.87 351.92 L531.97 350.99 L532.07 351.58 L532.17 351.89 L532.27 352.65 L532.36 351.75 L532.46 351.64 L532.56 352.76 L532.65 352.69 L532.75 352.21 L532.85 354.41 L532.95 353.74 L533.04 351.63 L533.14 351.08 L533.23 351.23 L533.33 352.26 L533.43 352.85 L533.52 353.74 L533.62 352.52 L533.71 351.84 L533.81 352.38 L533.91 352.25 L534.00 351.47 L534.10 352.22 L534.19 350.67 L534.29 351.74 L534.38 352.31 L534.48 351.76 L534.57 352.28 L534.66 352.65 L534.76 352.25 L534.85 352.26 L534.95 352.21 L535.04 351.53 L535.14 352.38 L535.23 351.78 L535.32 350.80 L535.42 352.18 L535.51 351.40 L535.60 349.02 L535.70 352.55 L535.79 351.23 L535.88 350.54 L535.97 351.60 L536.07 351.21 L536.16 351.01 L536.25 352.03 L536.34 351.45 L536.44 350.30 L536.53 349.86 L536.62 349.30 L536.71 350.41 L536.80 350.03 L536.90 350.60 L536.99 349.80 L537.08 350.02 L537.17 350.33 L537.26 348.80 L537.35 348.30 L537.44 348.84 L537.53 347.72 L537.62 348.37 L537.72 348.14 L537.81 349.22 L537.90 347.75 L537.99 348.73 L538.08 347.39 L538.17 347.49 L538.26 347.01 L538.35 347.16 L538.44 346.63 L538.53 346.12 L538.62 345.86 L538.70 347.33 L538.79 346.67 L538.88 347.62 L538.97 347.43 L539.06 345.46 L539.15 347.51 L539.24 345.67 L539.33 344.74 L539.42 344.97 L539.50 345.34 L539.59 343.88 L539.68 345.95 L539.77 345.27 L539.86 345.95 L539.94 345.68 L540.03 345.57 L540.12 345.87 L540.21 345.66 L540.29 344.21 L540.38 346.38 L540.47 344.84 L540.56 345.19 L540.64 345.67 L540.73 344.59 L540.82 344.71 L540.90 343.75 L540.99 345.56 L541.08 345.56 L541.16 344.75 L541.25 344.46 L541.34 343.07 L541.42 345.32 L541.51 344.25 L541.59 344.53 L541.68 344.60 L541.76 344.55 L541.85 344.90 L541.94 345.20 L542.02 344.84 L542.11 343.87 L542.19 344.61 L542.28 344.52 L542.36 343.86 L542.45 344.33 L542.53 345.14 L542.62 344.99 L542.70 344.78 L542.78 344.80 L542.87 342.89 L542.95 344.37 L543.04 345.27 L543.12 343.87 L543.21 343.80 L543.29 343.41 L543.37 344.09 L543.46 343.76 L543.54 342.96 L543.62 343.65 L543.71 343.50 L543.79 343.64 L543.87 343.56 L543.96 342.61 L544.04 343.33 L544.12 342.87 L544.21 342.71 L544.29 342.35 L544.37 342.55 L544.45 341.90 L544.54 341.41 L544.62 342.86 L544.70 341.00 L544.78 341.93 L544.87 342.13 L544.95 341.58 L545.03 341.03 L545.11 340.97 L545.19 339.81 L545.27 340.98 L545.36 339.90 L545.44 340.30 L545.52 339.57 L545.60 340.67 L545.68 339.58 L545.76 339.66 L545.84 340.54 L545.92 338.65 L546.01 338.97 L546.09 337.38 L546.17 338.55 L546.25 338.28 L546.33 337.96 L546.41 338.73 L546.49 339.15 L546.57 338.48 L546.65 338.25 L546.73 338.30 L546.81 336.96 L546.89 336.65 L546.97 337.27 L547.05 338.13 L547.13 336.32 L547.21 335.51 L547.29 336.45 L547.37 336.99 L547.44 336.61 L547.52 336.30 L547.60 335.75 L547.68 336.23 L547.76 335.26 L547.84 336.30 L547.92 336.24 L548.00 335.74 L548.08 336.48 L548.15 336.66 L548.23 334.31 L548.31 334.85 L548.39 334.39 L548.47 333.97 L548.54 334.47 L548.62 335.26 L548.70 335.85 L548.78 335.89 L548.86 333.83 L548.93 335.75 L549.01 335.06 L549.09 336.47 L549.17 335.51 L549.24 336.93 L549.32 337.59 L549.40 337.82 L549.47 336.42 L549.55 336.84 L549.63 336.53 L549.71 336.86 L549.78 338.25 L549.86 335.79 L549.94 336.76 L550.01 337.35 L550.09 337.04 L550.16 336.67 L550.24 338.37 L550.32 337.63 L550.39 337.46 L550.47 336.88 L550.54 337.87 L550.62 338.73 L550.70 338.02 L550.77 339.06 L550.85 338.08 L550.92 337.79 L551.00 338.52 L551.07 337.90 L551.15 337.55 L551.22 339.13 L551.30 339.54 L551.37 340.15 L551.45 337.60 L551.52 339.78 L551.60 339.64 L551.67 339.35 L551.75 339.68 L551.82 339.91 L551.90 339.88 L551.97 340.00 L552.05 339.46 L552.12 341.04 L552.20 339.84 L552.27 340.75 L552.34 339.76 L552.42 340.10 L552.49 340.14 L552.57 340.51 L552.64 341.45 L552.71 339.43 L552.79 341.56 L552.86 340.25 L552.93 342.43 L553.01 340.29 L553.08 341.24 L553.15 341.73 L553.23 340.19 L553.30 341.50 L553.37 341.69 L553.45 342.06 L553.52 341.77 L553.59 341.28 L553.66 340.99 L553.74 342.29 L553.81 342.76 L553.88 343.12 L553.95 344.36 L554.03 344.17 L554.10 343.17 L554.17 344.15 L554.24 345.97 L554.32 345.96 L554.39 345.94 L554.46 345.93 L554.53 347.32 L554.60 346.29 L554.67 346.70 L554.75 348.36 L554.82 346.52 L554.89 349.04 L554.96 348.20 L555.03 349.17 L555.10 348.88 L555.17 348.14 L555.25 350.12 L555.32 349.64 L555.39 350.40 L555.46 351.08 L555.53 351.21 L555.60 351.48 L555.67 352.15 L555.74 350.94 L555.81 353.81 L555.88 351.41 L555.95 352.68 L556.02 353.11 L556.09 353.01 L556.16 354.22 L556.23 353.56 L556.30 354.23 L556.37 356.43 L556.44 354.39 L556.51 356.73 L556.58 354.19 L556.65 355.92 L556.72 355.85 L556.79 356.28 L556.86 354.14 L556.93 354.43 L557.00 356.55 L557.07 356.78 L557.14 356.75 L557.21 355.98 L557.28 356.81 L557.35 356.82 L557.42 356.17 L557.49 358.11 L557.56 356.76 L557.62 356.50 L557.69 357.26 L557.76 356.78 L557.83 357.36 L557.90 356.58 L557.97 356.72 L558.04 357.06 L558.10 358.35 L558.17 357.48 L558.24 358.97 L558.31 358.98 L558.38 357.59 L558.45 357.76 L558.51 359.10 L558.58 358.12 L558.65 358.21 L558.72 359.92 L558.79 359.67 L558.85 359.29 L558.92 357.63 L558.99 359.23 L559.06 357.98 L559.12 359.57 L559.19 359.81 L559.26 361.04 L559.33 358.85 L559.39 360.11 L559.46 360.39 L559.53 360.62 L559.59 360.86 L559.66 361.49 L559.73 361.18 L559.79 360.66 L559.86 360.94 L559.93 362.12 L559.99 361.22 L560.06 360.15 L560.13 360.62 L560.19 361.06 L560.26 361.18 L560.33 362.51 L560.39 362.62 L560.46 361.35 L560.53 362.07 L560.59 363.34 L560.66 363.51 L560.72 363.28 L560.79 365.16 L560.86 363.08 L560.92 364.74 L560.99 364.26 L561.05 362.67 L561.12 363.58 L561.18 364.64 L561.25 364.15 L561.32 364.63 L561.38 364.97 L561.45 365.49 L561.51 365.18 L561.58 366.07 L561.64 365.58 L561.71 365.14 L561.77 365.75 L561.84 365.29 L561.90 366.97 L561.97 365.41 L562.03 366.26 L562.10 366.52 L562.16 367.38 L562.23 368.20 L562.29 366.39 L562.35 367.15 L562.42 367.18 L562.48 367.13 L562.55 366.56 L562.61 368.02 L562.68 366.67 L562.74 369.33 L562.80 368.99 L562.87 369.28 L562.93 370.01 L563.00 368.65 L563.06 368.28 L563.12 367.54 L563.19 369.94 L563.25 369.80 L563.32 368.93 L563.38 368.60 L563.44 369.77 L563.51 369.85 L563.57 368.87 L563.63 370.97 L563.70 369.55 L563.76 370.52 L563.82 368.78 L563.89 369.46 L563.95 370.48 L564.01 369.69 L564.08 371.92 L564.14 369.20 L564.20 370.40 L564.26 369.50 L564.33 370.68 L564.39 372.00 L564.45 371.32 L564.52 371.03 L564.58 372.21 L564.64 370.13 L564.70 370.44 L564.77 370.25 L564.83 372.36 L564.89 370.35 L564.95 372.71 L565.01 371.20 L565.08 371.67 L565.14 371.62 L565.20 372.63 L565.26 371.69 L565.32 371.91 L565.39 372.00 L565.45 372.20 L565.51 371.69 L565.57 372.47 L565.63 371.74 L565.70 373.04 L565.76 372.33 L565.82 373.85 L565.88 371.80 L565.94 373.07 L566.00 372.94 L566.06 374.45 L566.13 373.59 L566.19 373.12 L566.25 373.21 L566.31 372.90 L566.37 375.07 L566.43 375.22 L566.49 373.61 L566.55 373.18 L566.61 374.17 L566.67 374.47 L566.74 373.28 L566.80 373.76 L566.86 373.74 L566.92 374.01 L568.00 376.50" stroke="#ff7f0e" stroke-opacity="0.7" stroke-width="4.17"/>
</g>
<g fill="#2a2a2a">
<rect x="101" y="45" width="2" height="464"/>
<rect x="566" y="45" width="2" height="464"/>
<rect x="101" y="45" width="467" height="2"/>
<rect x="101" y="507" width="467" height="2"/>
<rect x="95" y="80" width="6" height="2"/>
<rect x="95" y="137" width="6" height="2"/>
<rect x="95" y="195" width="6" height="2"/>
<rect x="95" y="253" width="6" height="2"/>
<rect x="95" y="311" width="6" height="2"/>
<rect x="95" y="368" width="6" height="2"/>
<rect x="95" y="426" width="6" height="2"/>
<rect x="95" y="484" width="6" height="2"/>
<rect x="218" y="509" width="2" height="6"/>
<rect x="385" y="509" width="2" height="6"/>
<rect x="553" y="509" width="2" height="6"/>
</g>
<g fill="#000">
<rect x="101.875" y="509" width="1.25" height="3.5"/>
<rect x="130.875" y="509" width="1.25" height="3.5"/>
<rect x="151.875" y="509" width="1.25" height="3.5"/>
<rect x="168.875" y="509" width="1.25" height="3.5"/>
<rect x="181.875" y="509" width="1.25" height="3.5"/>
<rect x="192.875" y="509" width="1.25" height="3.5"/>
<rect x="202.875" y="509" width="1.25" height="3.5"/>
<rect x="210.875" y="509" width="1.25" height="3.5"/>
<rect x="268.875" y="509" width="1.25" height="3.5"/>
<rect x="298.875" y="509" width="1.25" height="3.5"/>
<rect x="319.875" y="509" width="1.25" height="3.5"/>
<rect x="335.875" y="509" width="1.25" height="3.5"/>
<rect x="348.875" y="509" width="1.25" height="3.5"/>
<rect x="359.875" y="509" width="1.25" height="3.5"/>
<rect x="369.875" y="509" width="1.25" height="3.5"/>
<rect x="378.875" y="509" width="1.25" height="3.5"/>
<rect x="436.875" y="509" width="1.25" height="3.5"/>
<rect x="465.875" y="509" width="1.25" height="3.5"/>
<rect x="486.875" y="509" width="1.25" height="3.5"/>
<rect x="502.875" y="509" width="1.25" height="3.5"/>
<rect x="516.875" y="509" width="1.25" height="3.5"/>
<rect x="527.875" y="509" width="1.25" height="3.5"/>
<rect x="536.875" y="509" width="1.25" height="3.5"/>
<rect x="545.875" y="509" width="1.25" height="3.5"/>
</g>
<g font-family="'Liberation Sans', sans-serif" fill="#000">
<text x="86.40" y="88.43" font-size="21.5" text-anchor="end">0</text>
<text x="86.40" y="146.18" font-size="21.5" text-anchor="end" textLength="27.50" lengthAdjust="spacingAndGlyphs">−5</text>
<text x="86.40" y="203.93" font-size="21.5" text-anchor="end" textLength="41.00" lengthAdjust="spacingAndGlyphs">−10</text>
<text x="86.40" y="261.68" font-size="21.5" text-anchor="end" textLength="41.00" lengthAdjust="spacingAndGlyphs">−15</text>
<text x="86.40" y="319.43" font-size="21.5" text-anchor="end" textLength="41.00" lengthAdjust="spacingAndGlyphs">−20</text>
<text x="86.40" y="377.18" font-size="21.5" text-anchor="end" textLength="41.00" lengthAdjust="spacingAndGlyphs">−25</text>
<text x="86.40" y="434.93" font-size="21.5" text-anchor="end" textLength="41.00" lengthAdjust="spacingAndGlyphs">−30</text>
<text x="86.40" y="492.68" font-size="21.5" text-anchor="end" textLength="41.00" lengthAdjust="spacingAndGlyphs">−35</text>
<text x="202.80" y="542.80" font-size="21.5" text-anchor="start">10</text>
<text x="228.60" y="532.80" font-size="15" text-anchor="start">2</text>
<text x="369.80" y="542.80" font-size="21.5" text-anchor="start">10</text>
<text x="395.60" y="532.80" font-size="15" text-anchor="start">3</text>
<text x="537.80" y="542.80" font-size="21.5" text-anchor="start">10</text>
<text x="563.60" y="532.80" font-size="15" text-anchor="start">4</text>
<text x="204.00" y="33.60" font-size="25.6" text-anchor="start" textLength="261.50" lengthAdjust="spacingAndGlyphs">Magnitude Spectrum</text>
<text x="259.80" y="572.90" font-size="21.5" text-anchor="start" textLength="149.00" lengthAdjust="spacingAndGlyphs">Frequency(Hz)</text>
<g transform="translate(31.00 358.00) rotate(-90)"><text x="0.00" y="0.00" font-size="21.5" text-anchor="start" textLength="153.50" lengthAdjust="spacingAndGlyphs">Magnitude(dB)</text></g>
</g>
<rect x="302.0" y="56.4" width="254.8" height="66.6" rx="4.2" ry="4.2" fill="#fff" fill-opacity="0.8" stroke="#cccccc" stroke-width="2.08"/>
<rect x="308" y="71" width="46" height="4.17" fill="#1f77b4"/>
<rect x="308" y="102.0" width="46" height="4.17" fill="#ff7f0e" fill-opacity="0.7"/>
<g font-family="'Liberation Sans', sans-serif" fill="#000">
<text x="368.50" y="80.50" font-size="21.5" text-anchor="start" textLength="178.50" lengthAdjust="spacingAndGlyphs">Pred. (smoothed)</text>
<text x="368.50" y="111.00" font-size="21.5" text-anchor="start" textLength="155.00" lengthAdjust="spacingAndGlyphs">GT (smoothed)</text>
</g>
</svg></body></html>
